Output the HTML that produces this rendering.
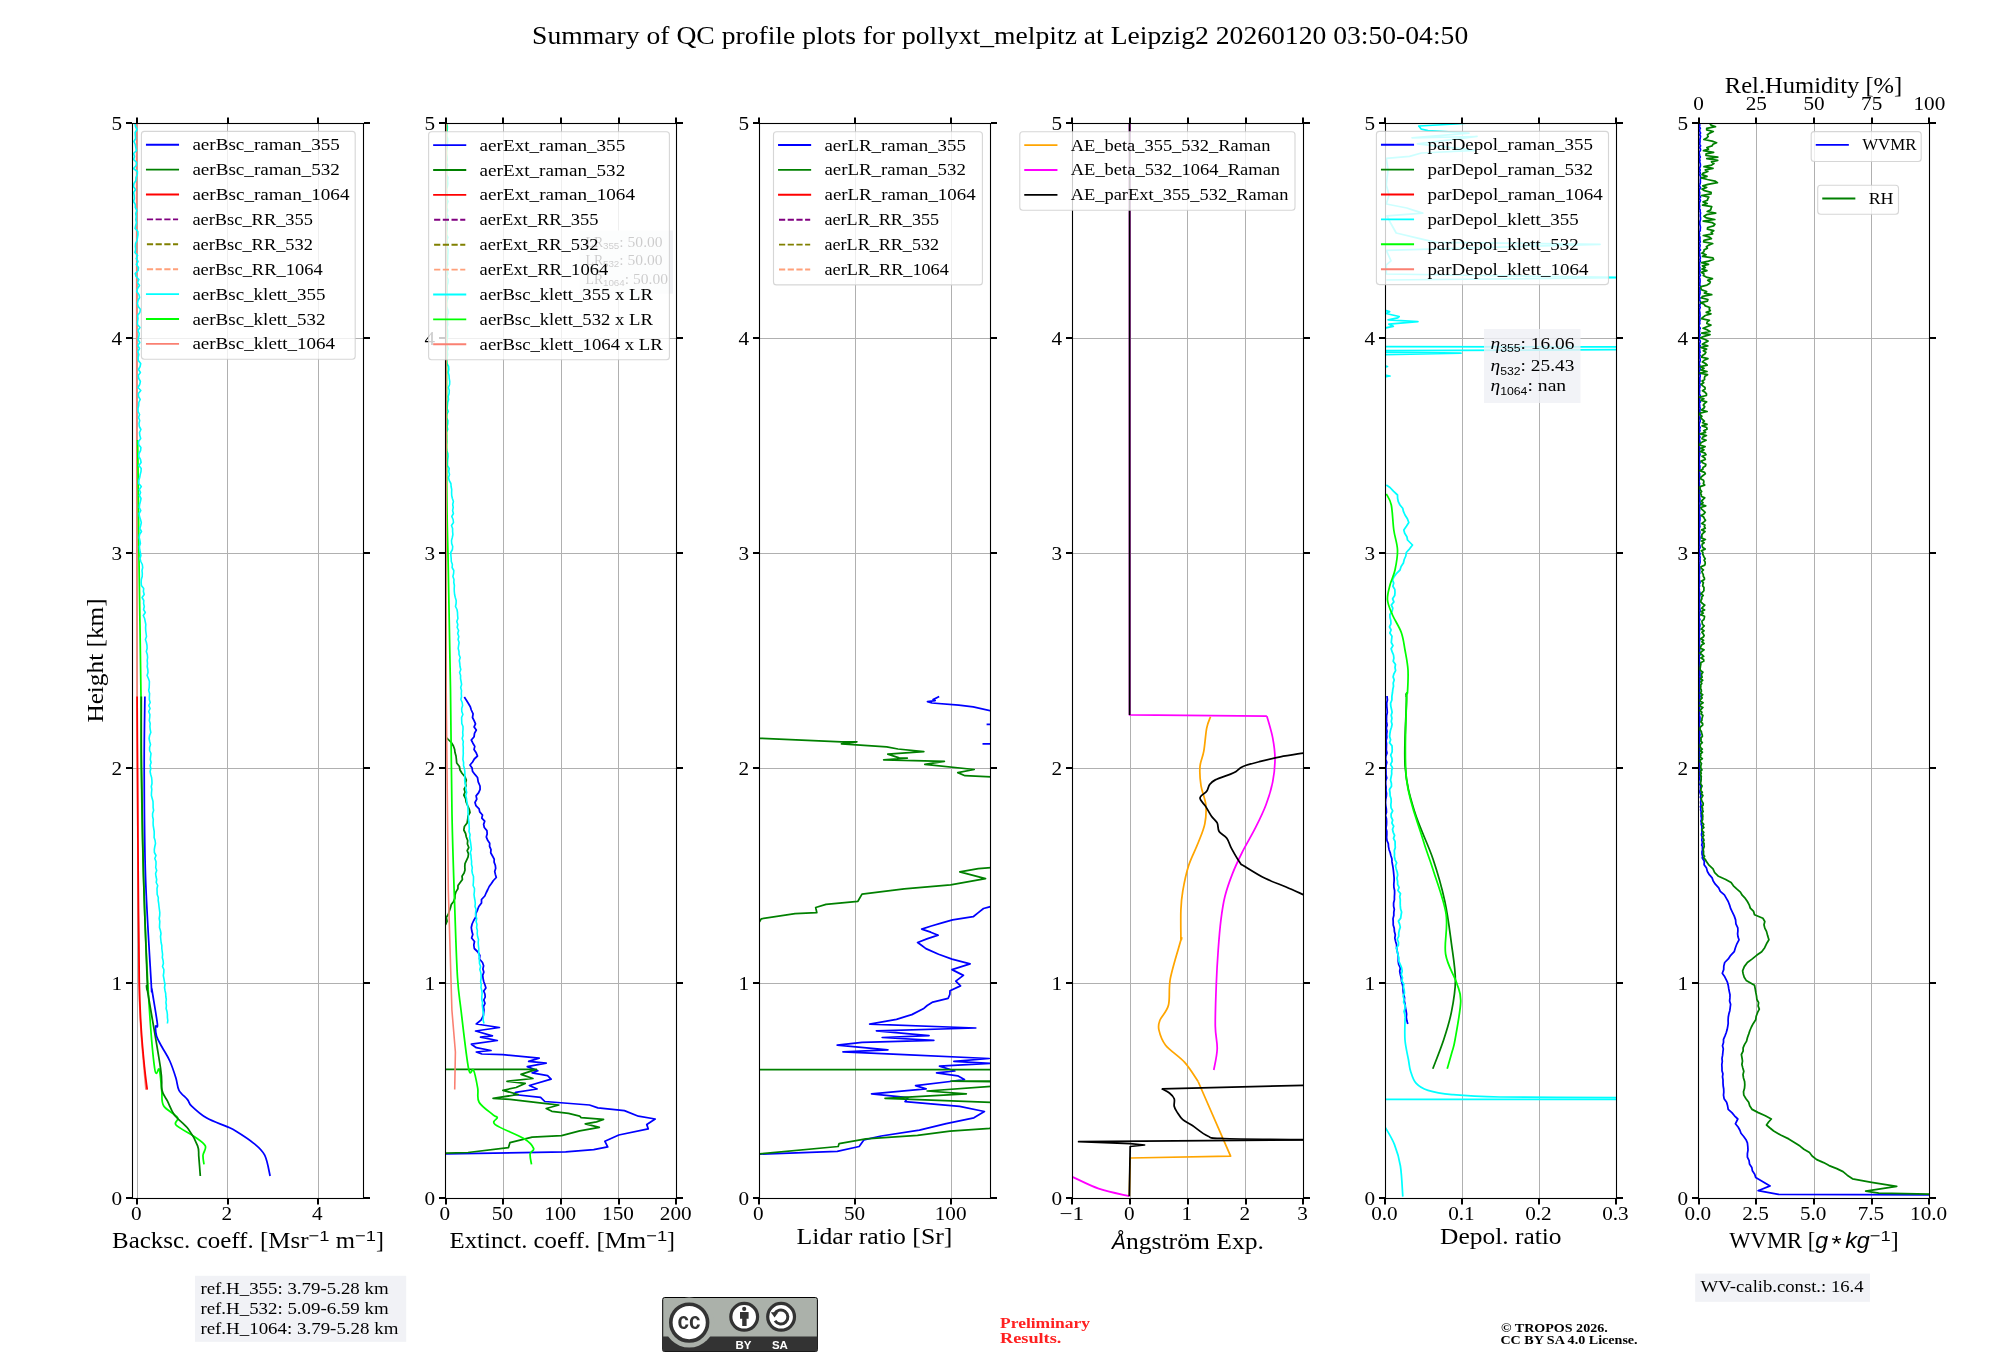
<!DOCTYPE html><html><head><meta charset="utf-8"><style>html,body{margin:0;padding:0;background:#fff;}svg{display:block;will-change:transform;}</style></head><body>
<svg width="2000" height="1360" viewBox="0 0 2000 1360">
<rect x="0" y="0" width="2000" height="1360" fill="#fff"/>
<text x="532.14" y="43.80" font-family="Liberation Serif" font-size="24.95" font-weight="normal" font-style="normal" fill="#000" textLength="936.12" lengthAdjust="spacingAndGlyphs">Summary of QC profile plots for pollyxt_melpitz at Leipzig2 20260120 03:50-04:50</text>
<g transform="translate(103.2 660.5) rotate(-90)">
<text x="-62.14" y="0.00" font-family="Liberation Serif" font-size="22.74" font-weight="normal" font-style="normal" fill="#000" textLength="124.26" lengthAdjust="spacingAndGlyphs">Height [km]</text>
</g>
<line x1="137.5" y1="123.5" x2="137.5" y2="1198.5" stroke="#b0b0b0" stroke-width="1.0"/>
<line x1="227.5" y1="123.5" x2="227.5" y2="1198.5" stroke="#b0b0b0" stroke-width="1.0"/>
<line x1="318.5" y1="123.5" x2="318.5" y2="1198.5" stroke="#b0b0b0" stroke-width="1.0"/>
<line x1="132.5" y1="983.5" x2="363.5" y2="983.5" stroke="#b0b0b0" stroke-width="1.0"/>
<line x1="132.5" y1="768.5" x2="363.5" y2="768.5" stroke="#b0b0b0" stroke-width="1.0"/>
<line x1="132.5" y1="553.5" x2="363.5" y2="553.5" stroke="#b0b0b0" stroke-width="1.0"/>
<line x1="132.5" y1="338.5" x2="363.5" y2="338.5" stroke="#b0b0b0" stroke-width="1.0"/>
<line x1="503.5" y1="123.5" x2="503.5" y2="1198.5" stroke="#b0b0b0" stroke-width="1.0"/>
<line x1="561.5" y1="123.5" x2="561.5" y2="1198.5" stroke="#b0b0b0" stroke-width="1.0"/>
<line x1="618.5" y1="123.5" x2="618.5" y2="1198.5" stroke="#b0b0b0" stroke-width="1.0"/>
<line x1="445.5" y1="983.5" x2="676.5" y2="983.5" stroke="#b0b0b0" stroke-width="1.0"/>
<line x1="445.5" y1="768.5" x2="676.5" y2="768.5" stroke="#b0b0b0" stroke-width="1.0"/>
<line x1="445.5" y1="553.5" x2="676.5" y2="553.5" stroke="#b0b0b0" stroke-width="1.0"/>
<line x1="445.5" y1="338.5" x2="676.5" y2="338.5" stroke="#b0b0b0" stroke-width="1.0"/>
<line x1="855.5" y1="123.5" x2="855.5" y2="1198.5" stroke="#b0b0b0" stroke-width="1.0"/>
<line x1="951.5" y1="123.5" x2="951.5" y2="1198.5" stroke="#b0b0b0" stroke-width="1.0"/>
<line x1="759.5" y1="983.5" x2="990.5" y2="983.5" stroke="#b0b0b0" stroke-width="1.0"/>
<line x1="759.5" y1="768.5" x2="990.5" y2="768.5" stroke="#b0b0b0" stroke-width="1.0"/>
<line x1="759.5" y1="553.5" x2="990.5" y2="553.5" stroke="#b0b0b0" stroke-width="1.0"/>
<line x1="759.5" y1="338.5" x2="990.5" y2="338.5" stroke="#b0b0b0" stroke-width="1.0"/>
<line x1="1130.5" y1="123.5" x2="1130.5" y2="1198.5" stroke="#b0b0b0" stroke-width="1.0"/>
<line x1="1187.5" y1="123.5" x2="1187.5" y2="1198.5" stroke="#b0b0b0" stroke-width="1.0"/>
<line x1="1245.5" y1="123.5" x2="1245.5" y2="1198.5" stroke="#b0b0b0" stroke-width="1.0"/>
<line x1="1072.5" y1="983.5" x2="1303.5" y2="983.5" stroke="#b0b0b0" stroke-width="1.0"/>
<line x1="1072.5" y1="768.5" x2="1303.5" y2="768.5" stroke="#b0b0b0" stroke-width="1.0"/>
<line x1="1072.5" y1="553.5" x2="1303.5" y2="553.5" stroke="#b0b0b0" stroke-width="1.0"/>
<line x1="1072.5" y1="338.5" x2="1303.5" y2="338.5" stroke="#b0b0b0" stroke-width="1.0"/>
<line x1="1462.5" y1="123.5" x2="1462.5" y2="1198.5" stroke="#b0b0b0" stroke-width="1.0"/>
<line x1="1539.5" y1="123.5" x2="1539.5" y2="1198.5" stroke="#b0b0b0" stroke-width="1.0"/>
<line x1="1385.5" y1="983.5" x2="1616.5" y2="983.5" stroke="#b0b0b0" stroke-width="1.0"/>
<line x1="1385.5" y1="768.5" x2="1616.5" y2="768.5" stroke="#b0b0b0" stroke-width="1.0"/>
<line x1="1385.5" y1="553.5" x2="1616.5" y2="553.5" stroke="#b0b0b0" stroke-width="1.0"/>
<line x1="1385.5" y1="338.5" x2="1616.5" y2="338.5" stroke="#b0b0b0" stroke-width="1.0"/>
<line x1="1756.5" y1="123.5" x2="1756.5" y2="1198.5" stroke="#b0b0b0" stroke-width="1.0"/>
<line x1="1814.5" y1="123.5" x2="1814.5" y2="1198.5" stroke="#b0b0b0" stroke-width="1.0"/>
<line x1="1871.5" y1="123.5" x2="1871.5" y2="1198.5" stroke="#b0b0b0" stroke-width="1.0"/>
<line x1="1698.5" y1="983.5" x2="1929.5" y2="983.5" stroke="#b0b0b0" stroke-width="1.0"/>
<line x1="1698.5" y1="768.5" x2="1929.5" y2="768.5" stroke="#b0b0b0" stroke-width="1.0"/>
<line x1="1698.5" y1="553.5" x2="1929.5" y2="553.5" stroke="#b0b0b0" stroke-width="1.0"/>
<line x1="1698.5" y1="338.5" x2="1929.5" y2="338.5" stroke="#b0b0b0" stroke-width="1.0"/>
<defs>
<clipPath id="cp0"><rect x="132.5" y="123.5" width="231.0" height="1075.0"/></clipPath>
<clipPath id="cp1"><rect x="445.5" y="123.5" width="231.0" height="1075.0"/></clipPath>
<clipPath id="cp2"><rect x="759.5" y="123.5" width="231.0" height="1075.0"/></clipPath>
<clipPath id="cp3"><rect x="1072.5" y="123.5" width="231.0" height="1075.0"/></clipPath>
<clipPath id="cp4"><rect x="1385.5" y="123.5" width="231.0" height="1075.0"/></clipPath>
<clipPath id="cp5"><rect x="1698.5" y="123.5" width="231.0" height="1075.0"/></clipPath>
</defs>
<g clip-path="url(#cp0)">
<path d="M136.60 123.50 C136.63 195.08 136.73 457.50 136.80 553.00 C136.87 648.50 136.90 660.67 137.00 696.50 C137.10 732.33 137.23 738.08 137.40 768.00 C137.57 797.92 137.73 840.17 138.00 876.00 C138.27 911.83 138.52 957.33 139.00 983.00 C139.48 1008.67 140.08 1015.97 140.90 1030.00 C141.72 1044.03 143.07 1057.27 143.90 1067.20 C144.73 1077.13 145.57 1085.87 145.90 1089.60" fill="none" stroke="#fa8072" stroke-width="1.60" stroke-linejoin="round" stroke-linecap="butt"/>
<path d="M137.60 440.00 C137.70 446.67 137.98 461.17 138.20 480.00 C138.42 498.83 138.43 516.92 138.90 553.00 C139.37 589.08 140.60 660.67 141.00 696.50 C141.40 732.33 140.88 738.08 141.30 768.00 C141.72 797.92 142.35 839.00 143.50 876.00 C144.65 913.00 146.35 958.00 148.20 990.00 C150.05 1022.00 152.75 1054.75 154.60 1068.00 C156.45 1081.25 158.12 1065.78 159.30 1069.50 C160.48 1073.22 160.98 1084.25 161.70 1090.30 C162.42 1096.35 160.97 1101.28 163.60 1105.80 C166.23 1110.32 175.43 1114.20 177.50 1117.40 C179.57 1120.60 173.17 1121.78 176.00 1125.00 C178.83 1128.22 189.62 1133.22 194.50 1136.70 C199.38 1140.18 203.88 1142.82 205.30 1145.90 C206.72 1148.98 203.22 1152.12 203.00 1155.20 C202.78 1158.28 203.83 1162.87 204.00 1164.40" fill="none" stroke="#00ff00" stroke-width="1.75" stroke-linejoin="round" stroke-linecap="butt"/>
<path d="M135.0 123.5 L135.5 126.5 L137.1 129.5 L135.1 132.5 L135.3 135.5 L135.6 138.5 L133.9 141.5 L135.3 144.5 L135.8 147.5 L136.5 150.5 L133.6 153.5 L134.5 156.5 L133.6 159.5 L136.6 162.5 L136.2 165.5 L133.5 168.5 L137.4 171.5 L137.3 174.5 L136.0 177.5 L135.9 180.5 L134.0 183.5 L133.5 186.5 L135.5 189.5 L133.7 192.5 L134.2 195.5 L134.4 198.5 L133.6 201.5 L135.3 204.5 L135.3 207.5 L136.9 210.5 L135.7 213.5 L136.2 216.5 L135.8 219.5 L136.5 222.5 L135.7 225.5 L135.1 228.5 L137.9 231.5 L138.0 234.5 L137.5 237.5 L137.0 240.5 L135.6 243.5 L135.4 246.5 L135.7 249.5 L134.9 252.5 L137.6 255.5 L136.3 258.5 L138.0 261.5 L136.4 264.5 L138.5 267.5 L138.2 270.5 L135.2 273.5 L136.1 276.5 L138.9 279.5 L137.5 282.5 L139.5 285.5 L137.6 288.5 L136.7 291.5 L138.9 294.5 L139.6 297.5 L138.0 300.5 L137.4 303.5 L138.2 306.5 L140.5 309.5 L139.8 312.5 L137.6 315.5 L138.0 318.5 L137.5 321.5 L137.4 324.5 L140.0 327.5 L137.9 330.5 L139.2 333.5 L138.8 336.5 L138.0 339.5 L139.8 342.5 L137.8 345.5 L139.5 348.5 L137.8 351.5 L138.8 354.5 L138.1 357.5 L138.3 360.5 L140.7 363.5 L140.1 366.5 L138.5 369.5 L140.4 372.5 L138.2 375.5 L138.8 378.5 L140.4 381.5 L139.7 384.5 L138.0 387.5 L140.8 390.5 L138.4 393.5 L138.5 396.5 L140.2 399.5 L138.8 402.5 L138.7 405.5 L138.0 408.5 L138.1 411.5 L139.6 414.5 L138.6 417.5 L139.7 420.5 L139.0 423.5 L139.3 426.5 L140.9 429.5 L139.5 432.5 L139.8 435.5 L140.7 438.5 L138.6 441.5 L138.6 444.5 L140.9 447.5 L140.6 450.5 L139.0 453.5 L138.8 456.5 L140.5 459.5 L141.1 462.5 L138.9 465.5 L141.2 468.5 L141.0 471.5 L140.2 474.5 L139.7 477.5 L138.8 480.5 L138.7 483.5 L141.3 486.5 L139.3 489.5 L140.6 492.5 L139.4 495.5 L141.0 498.5 L140.4 501.5 L139.6 504.5 L139.3 507.5 L140.8 510.5 L139.1 513.5 L139.5 516.5 L140.5 519.5 L141.3 522.5 L140.7 525.5 L139.8 528.5 L141.5 531.5 L139.6 534.5 L139.2 537.5 L139.9 540.5 L140.4 543.5 L139.4 546.5 L139.7 549.5 L140.3 552.5 L140.9 555.5 L140.0 558.5 L140.8 561.5 L142.3 564.5 L142.7 567.5 L142.0 570.5 L142.3 573.5 L142.2 576.5 L141.3 579.5 L141.2 582.5 L141.4 585.5 L143.7 588.5 L143.4 591.5 L144.2 594.5 L142.1 597.5 L143.8 600.5 L143.6 603.5 L144.3 606.5 L143.6 609.5 L145.3 612.5 L143.3 615.5 L144.6 618.5 L145.2 621.5 L145.8 624.5 L145.6 627.5 L145.7 630.5 L146.1 633.5 L146.5 636.5 L145.4 639.5 L146.4 642.5 L147.0 645.5 L147.1 648.5 L146.3 651.5 L147.3 654.5 L147.6 657.5 L147.2 660.5 L147.5 663.5 L147.2 666.5 L147.8 669.5 L148.0 672.5 L147.1 675.5 L148.4 678.5 L149.4 681.5 L149.3 684.5 L149.2 687.5 L148.7 690.5 L149.6 693.5 L149.4 696.5 L149.3 699.5 L150.2 702.5 L148.8 705.5 L150.1 708.5 L148.7 711.5 L149.9 714.5 L149.7 717.5 L149.3 720.5 L150.2 723.5 L149.9 726.5 L150.2 729.5 L150.8 732.5 L149.6 735.5 L149.1 738.5 L149.7 741.5 L150.5 744.5 L149.6 747.5 L149.6 750.5 L151.0 753.5 L150.6 756.5 L150.3 759.5 L151.1 762.5 L150.1 765.5 L150.8 768.5 L150.1 771.5 L150.7 774.5 L151.6 777.5 L151.9 780.5 L152.0 783.5 L151.3 786.5 L151.8 789.5 L151.5 792.5 L151.4 795.5 L152.2 798.5 L153.0 801.5 L153.1 804.5 L153.1 807.5 L153.6 810.5 L152.6 813.5 L152.6 816.5 L153.3 819.5 L153.1 822.5 L153.2 825.5 L153.7 828.5 L154.2 831.5 L154.2 834.5 L154.1 837.5 L155.1 840.5 L155.5 843.5 L154.8 846.5 L154.3 849.5 L154.4 852.5 L156.0 855.5 L154.8 858.5 L156.0 861.5 L156.0 864.5 L155.7 867.5 L156.7 870.5 L155.6 873.5 L156.0 876.5 L156.7 879.5 L156.2 882.5 L157.7 885.5 L157.0 888.5 L157.1 891.5 L157.2 894.5 L158.3 897.5 L158.2 900.5 L158.7 903.5 L159.0 906.5 L159.4 909.5 L159.8 912.5 L159.7 915.5 L159.2 918.5 L159.8 921.5 L159.6 924.5 L159.5 927.5 L160.4 930.5 L161.0 933.5 L160.5 936.5 L160.8 939.5 L161.1 942.5 L161.8 945.5 L161.8 948.5 L162.2 951.5 L162.6 954.5 L162.3 957.5 L163.1 960.5 L163.4 963.5 L162.5 966.5 L163.9 969.5 L163.8 972.5 L163.3 975.5 L163.9 978.5 L164.4 981.5 L165.0 984.5 L164.5 987.5 L165.0 990.5 L165.7 993.5 L165.8 996.5 L166.3 999.5 L165.9 1002.5 L166.4 1005.5 L166.1 1008.5 L167.0 1011.5 L167.4 1014.5 L167.4 1017.5 L167.8 1020.5 L167.4 1023.5" fill="none" stroke="#00ffff" stroke-width="1.60" stroke-linejoin="round" stroke-linecap="butt"/>
<path d="M137.10 696.50 C137.17 708.42 137.32 738.08 137.50 768.00 C137.68 797.92 137.90 840.17 138.20 876.00 C138.50 911.83 138.78 957.33 139.30 983.00 C139.82 1008.67 140.43 1015.97 141.30 1030.00 C142.17 1044.03 143.52 1057.27 144.50 1067.20 C145.48 1077.13 146.75 1085.87 147.20 1089.60" fill="none" stroke="#ff0000" stroke-width="1.75" stroke-linejoin="round" stroke-linecap="butt"/>
<path d="M141.30 696.50 C141.33 708.42 141.13 738.08 141.50 768.00 C141.87 797.92 142.53 840.17 143.50 876.00 C144.47 911.83 146.65 964.00 147.30 983.00 C147.95 1002.00 145.20 975.83 147.40 990.00 C149.60 1004.17 158.07 1051.28 160.50 1068.00 C162.93 1084.72 160.83 1084.78 162.00 1090.30 C163.17 1095.82 165.43 1096.98 167.50 1101.10 C169.57 1105.22 170.93 1110.35 174.40 1115.00 C177.87 1119.65 184.43 1123.85 188.30 1129.00 C192.17 1134.15 195.85 1141.28 197.60 1145.90 C199.35 1150.52 198.35 1151.68 198.80 1156.70 C199.25 1161.72 200.05 1172.78 200.30 1176.00" fill="none" stroke="#008000" stroke-width="1.75" stroke-linejoin="round" stroke-linecap="butt"/>
<path d="M144.90 696.50 C144.78 708.42 144.10 738.08 144.20 768.00 C144.30 797.92 144.33 840.17 145.50 876.00 C146.67 911.83 150.12 964.00 151.20 983.00 C152.28 1002.00 150.97 983.17 152.00 990.00 C153.03 996.83 156.80 1017.95 157.40 1024.00 C158.00 1030.05 155.73 1024.25 155.60 1026.30 C155.47 1028.35 155.53 1032.85 156.60 1036.30 C157.67 1039.75 159.80 1042.88 162.00 1047.00 C164.20 1051.12 167.48 1055.83 169.80 1061.00 C172.12 1066.17 174.37 1073.12 175.90 1078.00 C177.43 1082.88 177.07 1086.70 179.00 1090.30 C180.93 1093.90 185.43 1097.02 187.50 1099.60 C189.57 1102.18 188.18 1102.72 191.40 1105.80 C194.62 1108.88 200.88 1114.63 206.80 1118.10 C212.72 1121.57 222.02 1124.42 226.90 1126.60 C231.78 1128.78 231.73 1128.50 236.10 1131.20 C240.47 1133.90 248.33 1138.80 253.10 1142.80 C257.87 1146.80 261.87 1149.67 264.70 1155.20 C267.53 1160.73 269.20 1172.53 270.10 1176.00" fill="none" stroke="#0000ff" stroke-width="1.75" stroke-linejoin="round" stroke-linecap="butt"/>
</g>
<g clip-path="url(#cp1)">
<path d="M464.3 697.0 L466.4 700.2 L468.4 703.5 L470.3 706.8 L471.3 710.0 L473.1 713.8 L472.5 717.5 L474.1 720.6 L475.5 723.8 L474.1 726.9 L476.3 730.0 L474.5 733.3 L474.1 736.7 L471.3 740.0 L472.9 743.2 L474.8 746.4 L474.0 749.6 L476.2 752.8 L477.5 756.0 L474.3 759.0 L472.6 762.0 L470.0 765.0 L472.1 768.1 L472.5 771.2 L474.9 774.4 L477.5 777.5 L478.2 781.8 L480.0 786.0 L480.1 789.3 L478.7 792.6 L476.1 795.9 L476.8 799.2 L475.0 802.5 L475.9 805.6 L479.1 808.8 L479.7 811.9 L482.5 815.0 L481.8 818.1 L484.7 821.2 L483.6 824.4 L484.3 827.5 L486.9 830.6 L487.2 833.8 L486.3 836.9 L487.5 840.0 L489.7 843.2 L489.6 846.4 L491.0 849.6 L490.7 852.8 L492.5 856.0 L494.2 859.1 L494.1 862.1 L495.3 865.2 L495.7 868.3 L494.7 871.4 L495.4 874.4 L496.3 877.5 L493.4 880.5 L491.4 883.5 L489.2 886.5 L487.8 889.5 L486.3 892.5 L484.8 896.0 L481.5 899.5 L481.5 903.0 L478.8 906.5 L477.5 910.0 L475.8 913.5 L475.8 917.0 L473.7 920.5 L472.1 924.0 L471.3 927.5 L471.8 931.0 L472.8 934.5 L471.6 938.0 L474.5 941.5 L473.8 945.0 L474.3 948.5 L477.9 952.0 L479.9 955.5 L479.5 959.0 L482.5 962.5 L483.6 965.7 L482.9 968.9 L483.8 972.1 L482.7 975.4 L483.1 978.6 L483.8 981.8 L485.0 985.0 L485.9 988.0 L483.7 991.0 L484.9 994.0 L485.2 997.0 L483.8 1000.0 L485.0 1003.3 L483.5 1006.7 L484.0 1010.0 L483.3 1015.6 L481.2 1019.8 L476.3 1024.0 L499.4 1027.5 L475.6 1031.0 L492.4 1035.8 L480.5 1037.2 L497.3 1040.5 L471.4 1044.2 L476.3 1047.7 L491.0 1050.5 L476.3 1052.0 L481.9 1054.0 L502.9 1054.7 L539.2 1058.2 L528.7 1061.4 L546.2 1063.1 L527.3 1066.6 L537.8 1070.8 L532.2 1072.9 L547.6 1075.7 L551.1 1079.2 L529.4 1085.5 L537.1 1089.0 L515.5 1092.4 L514.0 1094.5 L540.6 1097.3 L544.8 1101.5 L589.5 1105.0 L597.9 1107.8 L624.4 1110.6 L638.4 1116.2 L655.2 1119.0 L646.8 1124.6 L648.2 1128.8 L618.8 1135.0 L604.9 1141.3 L607.7 1146.9 L593.7 1149.7 L565.7 1151.8 L445.6 1153.9" fill="none" stroke="#0000ff" stroke-width="1.75" stroke-linejoin="round" stroke-linecap="butt"/>
<path d="M446.3 737.5 L451.3 742.5 L453.3 745.8 L454.6 749.2 L455.0 752.5 L456.0 756.0 L456.4 759.5 L456.7 763.0 L459.4 766.5 L460.0 770.0 L462.0 773.3 L464.9 776.7 L466.3 780.0 L465.5 783.0 L466.0 786.0 L464.2 789.0 L465.1 792.0 L463.8 795.0 L465.6 798.5 L466.1 802.0 L467.6 805.5 L469.2 809.0 L470.0 812.5 L468.0 816.0 L467.7 819.5 L467.1 823.0 L464.4 826.5 L463.8 830.0 L465.6 833.5 L466.3 837.0 L467.7 840.5 L467.4 844.0 L468.8 847.5 L467.2 850.7 L468.5 853.9 L468.0 857.1 L466.5 860.4 L465.0 863.6 L464.8 866.8 L465.0 870.0 L464.1 873.1 L462.0 876.2 L462.4 879.4 L460.2 882.5 L458.0 885.6 L457.9 888.8 L455.9 891.9 L455.0 895.0 L454.9 898.2 L453.6 901.4 L451.3 904.6 L450.4 907.9 L449.3 911.1 L448.3 914.3 L446.3 917.5 L447.1 921.2 L445.5 925.0" fill="none" stroke="#008000" stroke-width="1.75" stroke-linejoin="round" stroke-linecap="butt"/>
<path d="M445.5 1069.4 L536.4 1069.4 L521.0 1074.3 L532.9 1078.5 L507.0 1081.3 L525.2 1083.4 L516.1 1087.5 L502.9 1090.3 L518.2 1094.5 L493.1 1098.3 L509.9 1099.4 L546.2 1103.6 L558.8 1105.0 L546.2 1108.5 L551.8 1111.3 L568.5 1113.4 L579.7 1116.2 L581.1 1117.6 L603.5 1119.4 L596.5 1121.8 L585.3 1123.9 L599.3 1127.4 L579.7 1130.9 L561.6 1135.7 L532.2 1137.1 L509.9 1142.7 L508.5 1147.6 L468.0 1152.5 L445.6 1153.2" fill="none" stroke="#008000" stroke-width="1.75" stroke-linejoin="round" stroke-linecap="butt"/>
<path d="M446.3 123.5 L447.4 126.5 L447.3 129.5 L447.0 132.5 L446.5 135.5 L447.6 138.5 L447.7 141.5 L447.1 144.5 L447.1 147.5 L446.5 150.5 L446.1 153.5 L446.8 156.5 L447.2 159.5 L446.2 162.5 L447.7 165.5 L446.6 168.5 L446.6 171.5 L446.2 174.5 L448.1 177.5 L447.6 180.5 L447.9 183.5 L447.4 186.5 L446.2 189.5 L446.8 192.5 L447.1 195.5 L446.4 198.5 L448.1 201.5 L446.9 204.5 L446.5 207.5 L447.8 210.5 L446.4 213.5 L448.1 216.5 L447.1 219.5 L447.3 222.5 L446.9 225.5 L447.2 228.5 L446.6 231.5 L446.3 234.5 L448.0 237.5 L446.7 240.5 L447.8 243.5 L446.7 246.5 L448.2 249.5 L448.1 252.5 L447.8 255.5 L447.8 258.5 L447.5 261.5 L447.8 264.5 L446.5 267.5 L447.3 270.5 L448.0 273.5 L446.7 276.5 L448.2 279.5 L448.1 282.5 L447.2 285.5 L447.1 288.5 L447.3 291.5 L447.1 294.5 L448.4 297.5 L447.1 300.5 L446.4 303.5 L446.6 306.5 L447.8 309.5 L448.4 312.5 L447.4 315.5 L447.4 318.5 L447.5 321.5 L447.9 324.5 L446.9 327.5 L447.7 330.5 L447.6 333.5 L447.7 336.5 L446.8 339.5 L446.8 342.5 L447.2 345.5 L448.3 348.5 L447.2 351.5 L447.7 354.5 L447.1 357.5 L446.7 360.5 L446.9 363.5 L448.6 366.5 L448.8 369.5 L448.2 372.5 L449.0 375.5 L449.2 378.5 L449.7 381.5 L449.6 384.5 L448.4 387.5 L449.3 390.5 L449.1 393.5 L448.2 396.5 L448.6 399.5 L447.7 402.5 L447.4 405.5 L447.1 408.5 L448.3 411.5 L446.8 414.5 L446.5 417.5 L447.9 420.5 L447.8 423.5 L447.1 426.5 L447.7 429.5 L446.1 432.5 L446.4 435.5 L446.4 438.5 L446.7 441.5 L446.2 444.5 L446.1 447.5 L446.7 450.5 L447.9 453.5 L448.1 456.5 L447.7 459.5 L447.5 462.5 L447.4 465.5 L449.2 468.5 L448.7 471.5 L449.5 474.5 L448.5 477.5 L449.2 480.5 L450.9 483.5 L451.1 486.5 L451.7 489.5 L451.6 492.5 L451.7 495.5 L452.4 498.5 L453.4 501.5 L452.7 504.5 L453.2 507.5 L452.6 510.5 L453.4 513.5 L451.8 516.5 L453.1 519.5 L453.5 522.5 L451.5 525.5 L452.6 528.5 L452.6 531.5 L452.9 534.5 L452.3 537.5 L451.5 540.5 L451.7 543.5 L452.7 546.5 L452.4 549.5 L450.8 552.5 L450.9 555.5 L451.2 558.5 L451.3 561.5 L452.4 564.5 L452.1 567.5 L453.8 570.5 L453.6 573.5 L452.9 576.5 L454.0 579.5 L453.8 582.5 L454.4 585.5 L454.2 588.5 L454.3 591.5 L454.6 594.5 L455.3 597.5 L456.2 600.5 L456.1 603.5 L455.5 606.5 L457.0 609.5 L457.5 612.5 L457.6 615.5 L457.9 618.5 L456.8 621.5 L457.8 624.5 L457.2 627.5 L458.6 630.5 L457.7 633.5 L458.8 636.5 L458.1 639.5 L459.1 642.5 L458.6 645.5 L458.2 648.5 L459.0 651.5 L459.0 654.5 L460.2 657.5 L459.3 660.5 L459.8 663.5 L460.0 666.5 L460.8 669.5 L459.6 672.5 L460.6 675.5 L460.5 678.5 L461.1 681.5 L461.6 684.5 L460.7 687.5 L461.5 690.5 L461.3 693.5 L461.5 696.5 L460.9 699.5 L462.2 702.5 L462.6 705.5 L461.7 708.5 L461.8 711.5 L462.9 714.5 L461.6 717.5 L461.7 720.5 L461.8 723.5 L463.0 726.5 L463.0 729.5 L462.7 732.5 L463.0 735.5 L462.2 738.5 L463.3 741.5 L463.0 744.5 L463.3 747.5 L463.2 750.5 L463.3 753.5 L463.1 756.5 L462.9 759.5 L463.6 762.5 L463.5 765.5 L464.4 768.5 L464.8 771.5 L464.9 774.5 L464.8 777.5 L464.7 780.5 L465.2 783.5 L465.6 786.5 L466.0 789.5 L466.7 792.5 L465.7 795.5 L466.5 798.5 L466.8 801.5 L467.4 804.5 L467.9 807.5 L468.0 810.5 L468.0 813.5 L468.4 816.5 L468.5 819.5 L469.0 822.5 L469.1 825.5 L469.3 828.5 L469.0 831.5 L470.1 834.5 L469.6 837.5 L470.2 840.5 L470.7 843.5 L471.1 846.5 L471.4 849.5 L470.3 852.5 L471.0 855.5 L471.2 858.5 L471.6 861.5 L471.5 864.5 L472.3 867.5 L471.9 870.5 L472.4 873.5 L473.5 876.5 L473.5 879.5 L473.4 882.5 L473.1 885.5 L474.5 888.5 L474.4 891.5 L474.0 894.5 L474.4 897.5 L475.0 900.5 L475.3 903.5 L475.0 906.5 L476.1 909.5 L475.6 912.5 L475.7 915.5 L476.7 918.5 L476.1 921.5 L477.0 924.5 L476.6 927.5 L477.4 930.5 L477.2 933.5 L477.6 936.5 L478.5 939.5 L478.2 942.5 L478.4 945.5 L478.8 948.5 L478.7 951.5 L478.8 954.5 L479.3 957.5 L479.4 960.5 L479.5 963.5 L480.6 966.5 L479.8 969.5 L480.8 972.5 L481.2 975.5 L481.1 978.5 L480.6 981.5 L481.3 984.5 L481.0 987.5 L481.8 990.5 L482.1 993.5 L481.8 996.5 L481.8 999.5 L482.5 1002.5 L482.3 1005.5 L482.7 1008.5 L483.0 1011.5 L483.6 1014.5 L483.3 1017.5 L483.2 1020.5 L484.0 1023.5" fill="none" stroke="#00ffff" stroke-width="1.60" stroke-linejoin="round" stroke-linecap="butt"/>
<path d="M446.50 123.50 C446.52 179.58 446.30 385.58 446.60 460.00 C446.90 534.42 447.65 531.67 448.30 570.00 C448.95 608.33 449.88 649.17 450.50 690.00 C451.12 730.83 451.25 777.50 452.00 815.00 C452.75 852.50 454.08 887.92 455.00 915.00 C455.92 942.08 456.50 961.67 457.50 977.50 C458.50 993.33 459.15 994.80 461.00 1010.00 C462.85 1025.20 466.52 1058.70 468.60 1068.70 C470.68 1078.70 471.98 1066.75 473.50 1070.00 C475.02 1073.25 476.77 1082.83 477.70 1088.20 C478.63 1093.57 476.53 1097.77 479.10 1102.20 C481.67 1106.63 490.07 1112.23 493.10 1114.80 C496.13 1117.37 496.95 1115.97 497.30 1117.60 C497.65 1119.23 490.78 1121.12 495.20 1124.60 C499.62 1128.08 517.40 1134.55 523.80 1138.50 C530.20 1142.45 532.55 1145.73 533.60 1148.30 C534.65 1150.87 530.45 1151.22 530.10 1153.90 C529.75 1156.58 531.27 1162.65 531.50 1164.40" fill="none" stroke="#00ff00" stroke-width="1.75" stroke-linejoin="round" stroke-linecap="butt"/>
<path d="M446.0 123.5 L446.2 690.0 L448.3 890.0 L451.9 1010.0 L455.4 1052.0 L454.7 1089.6" fill="none" stroke="#fa8072" stroke-width="1.60" stroke-linejoin="round" stroke-linecap="butt"/>
</g>
<g clip-path="url(#cp2)">
<path d="M939.2 696.5 L933.1 699.6 L935.1 700.6 L927.5 701.6 L932.0 703.0 L958.8 705.1 L973.2 706.8 L992.0 711.0" fill="none" stroke="#0000ff" stroke-width="1.75" stroke-linejoin="round" stroke-linecap="butt"/>
<path d="M986.6 724.3 L992.0 724.3" fill="none" stroke="#0000ff" stroke-width="1.75" stroke-linejoin="round" stroke-linecap="butt"/>
<path d="M982.5 743.8 L992.0 743.8" fill="none" stroke="#0000ff" stroke-width="1.75" stroke-linejoin="round" stroke-linecap="butt"/>
<path d="M759.5 738.3 L841.5 741.8 L856.9 741.8 L841.5 743.8 L886.7 746.9 L898.0 749.0 L923.8 751.6 L887.8 754.1 L899.1 757.8 L907.3 758.2 L883.7 759.9 L944.4 761.3 L924.8 764.4 L974.2 769.5 L957.8 772.6 L965.0 775.7 L992.0 776.9" fill="none" stroke="#008000" stroke-width="1.75" stroke-linejoin="round" stroke-linecap="butt"/>
<path d="M992.0 867.5 L978.3 868.6 L959.8 871.8 L985.5 878.6 L950.6 884.8 L904.2 888.9 L862.0 894.1 L857.9 901.3 L826.0 904.4 L815.7 907.5 L816.8 912.6 L795.1 913.6 L761.2 918.8 L759.5 921.9" fill="none" stroke="#008000" stroke-width="1.75" stroke-linejoin="round" stroke-linecap="butt"/>
<path d="M992.0 906.2 L983.5 908.5 L978.3 912.6 L973.2 916.7 L952.6 919.8 L942.0 922.9 L931.3 926.0 L921.7 929.1 L930.7 932.2 L938.2 935.2 L926.9 938.9 L917.6 942.5 L921.8 945.5 L925.9 948.6 L938.6 954.3 L952.0 959.1 L970.1 963.9 L952.0 969.6 L963.4 975.4 L955.8 981.1 L960.5 985.9 L950.0 990.7 L949.8 994.5 L948.1 998.3 L932.8 1002.1 L927.2 1005.5 L923.3 1008.8 L911.8 1014.6 L896.5 1019.3 L869.7 1024.1 L975.8 1028.0 L876.4 1030.8 L929.0 1035.6 L882.2 1037.5 L933.8 1040.4 L862.1 1042.3 L837.2 1045.2 L887.9 1049.9 L843.0 1051.9 L904.1 1054.7 L989.2 1058.5 L953.9 1061.4 L990.2 1063.3 L939.5 1066.2 L954.8 1071.0 L936.6 1072.9 L957.7 1075.8 L964.4 1079.6 L950.0 1081.5 L915.6 1085.7 L926.1 1088.8 L871.6 1093.9 L908.0 1097.7 L905.1 1101.6 L959.6 1106.3 L984.4 1111.5 L973.9 1117.8 L946.2 1123.6 L919.4 1130.2 L881.2 1136.0 L864.0 1139.8 L859.2 1146.5 L837.2 1151.3 L759.8 1154.1" fill="none" stroke="#0000ff" stroke-width="1.75" stroke-linejoin="round" stroke-linecap="butt"/>
<path d="M759.5 1069.6 L992.0 1069.6" fill="none" stroke="#008000" stroke-width="1.75" stroke-linejoin="round" stroke-linecap="butt"/>
<path d="M992.0 1081.1 L951.0 1081.1 L992.0 1081.6 L992.0 1086.3 L927.1 1091.0 L966.3 1093.9 L885.0 1098.3 L992.0 1102.5" fill="none" stroke="#008000" stroke-width="1.75" stroke-linejoin="round" stroke-linecap="butt"/>
<path d="M992.0 1124.5 L990.2 1128.3 L950.0 1131.2 L917.5 1135.4 L865.9 1138.9 L839.1 1143.6 L838.2 1146.5 L759.8 1153.8" fill="none" stroke="#008000" stroke-width="1.75" stroke-linejoin="round" stroke-linecap="butt"/>
</g>
<g clip-path="url(#cp3)">
<path d="M1210.50 716.80 C1209.87 718.70 1207.82 722.47 1206.70 728.20 C1205.58 733.93 1204.92 744.82 1203.80 751.20 C1202.68 757.58 1200.47 760.77 1200.00 766.50 C1199.53 772.23 1200.03 779.23 1201.00 785.60 C1201.97 791.97 1205.17 798.33 1205.80 804.70 C1206.43 811.07 1206.08 817.42 1204.80 823.80 C1203.52 830.18 1200.82 835.98 1198.10 843.00 C1195.38 850.02 1191.05 857.93 1188.50 865.90 C1185.95 873.87 1184.07 883.47 1182.80 890.80 C1181.53 898.13 1181.22 901.93 1180.90 909.90 C1180.58 917.87 1180.90 933.58 1180.90 938.60 C1180.90 943.62 1182.65 933.40 1180.90 940.00 C1179.15 946.60 1172.47 967.37 1170.40 978.20 C1168.33 989.03 1170.25 997.98 1168.50 1005.00 C1166.75 1012.02 1161.50 1016.15 1159.90 1020.30 C1158.30 1024.45 1157.95 1025.75 1158.90 1029.90 C1159.85 1034.05 1161.30 1039.78 1165.60 1045.20 C1169.90 1050.62 1179.28 1056.35 1184.70 1062.40 C1190.12 1068.45 1195.87 1078.32 1198.10 1081.50" fill="none" stroke="#ffa500" stroke-width="1.75" stroke-linejoin="round" stroke-linecap="butt"/>
<path d="M1198.1 1081.5 L1230.6 1156.1 L1130.2 1158.0 L1129.3 1196.2" fill="none" stroke="#ffa500" stroke-width="1.75" stroke-linejoin="round" stroke-linecap="butt"/>
<path d="M1129.6 110.0 L1129.6 714.9 L1266.9 716.2" fill="none" stroke="#ff00ff" stroke-width="1.75" stroke-linejoin="round" stroke-linecap="butt"/>
<path d="M1266.90 716.20 C1267.87 719.80 1271.35 730.70 1272.70 737.80 C1274.05 744.90 1275.00 751.47 1275.00 758.80 C1275.00 766.13 1274.20 774.15 1272.70 781.80 C1271.20 789.45 1268.87 797.05 1266.00 804.70 C1263.13 812.35 1259.48 819.73 1255.50 827.70 C1251.52 835.67 1245.93 844.85 1242.10 852.50 C1238.27 860.15 1235.37 866.27 1232.50 873.60 C1229.63 880.93 1226.82 888.87 1224.90 896.50 C1222.98 904.13 1222.12 910.48 1221.00 919.40 C1219.88 928.32 1218.98 939.23 1218.20 950.00 C1217.42 960.77 1216.78 971.33 1216.30 984.00 C1215.82 996.67 1215.15 1015.17 1215.30 1026.00 C1215.45 1036.83 1217.45 1041.67 1217.20 1049.00 C1216.95 1056.33 1214.37 1066.50 1213.80 1070.00" fill="none" stroke="#ff00ff" stroke-width="1.75" stroke-linejoin="round" stroke-linecap="butt"/>
<path d="M1060.00 1171.50 C1062.15 1172.43 1066.45 1174.25 1072.90 1177.10 C1079.35 1179.95 1089.30 1185.42 1098.70 1188.60 C1108.10 1191.78 1124.20 1194.93 1129.30 1196.20" fill="none" stroke="#ff00ff" stroke-width="1.75" stroke-linejoin="round" stroke-linecap="butt"/>
<path d="M1129.6 110.0 L1129.6 714.9" fill="none" stroke="#000000" stroke-width="1.75" stroke-linejoin="round" stroke-linecap="butt"/>
<path d="M1310.00 752.00 C1308.88 752.18 1308.25 752.28 1303.30 753.10 C1298.35 753.92 1287.63 755.47 1280.30 756.90 C1272.97 758.33 1265.52 760.10 1259.30 761.70 C1253.08 763.30 1246.83 764.90 1243.00 766.50 C1239.17 768.10 1238.37 770.03 1236.30 771.30 C1234.23 772.57 1234.10 772.67 1230.60 774.10 C1227.10 775.53 1218.80 778.15 1215.30 779.90 C1211.80 781.65 1211.03 782.70 1209.60 784.60 C1208.17 786.50 1208.30 789.07 1206.70 791.30 C1205.10 793.53 1200.15 795.45 1200.00 798.00 C1199.85 800.55 1203.88 803.57 1205.80 806.60 C1207.72 809.63 1209.60 813.48 1211.50 816.20 C1213.40 818.92 1215.93 820.35 1217.20 822.90 C1218.47 825.45 1217.50 828.95 1219.10 831.50 C1220.70 834.05 1224.72 835.33 1226.80 838.20 C1228.88 841.07 1229.37 844.57 1231.60 848.70 C1233.83 852.83 1238.13 860.13 1240.20 863.00 C1242.27 865.87 1239.87 863.35 1244.00 865.90 C1248.13 868.45 1257.98 874.78 1265.00 878.30 C1272.02 881.82 1279.72 884.28 1286.10 887.00 C1292.48 889.72 1299.32 892.83 1303.30 894.60 C1307.28 896.37 1308.88 897.10 1310.00 897.60" fill="none" stroke="#000000" stroke-width="1.75" stroke-linejoin="round" stroke-linecap="butt"/>
<path d="M1310.0 1085.2 L1303.3 1085.3 L1161.8 1088.8" fill="none" stroke="#000000" stroke-width="1.75" stroke-linejoin="round" stroke-linecap="butt"/>
<path d="M1161.80 1088.80 C1163.07 1089.50 1167.33 1091.35 1169.40 1093.00 C1171.47 1094.65 1173.40 1096.48 1174.20 1098.70 C1175.00 1100.92 1173.72 1104.07 1174.20 1106.30 C1174.68 1108.53 1175.67 1109.87 1177.10 1112.10 C1178.53 1114.33 1180.25 1117.47 1182.80 1119.70 C1185.35 1121.93 1188.25 1122.78 1192.40 1125.50 C1196.55 1128.22 1202.60 1133.83 1207.70 1136.00 C1212.80 1138.17 1205.95 1137.87 1223.00 1138.50 C1240.05 1139.13 1295.50 1139.58 1310.00 1139.80" fill="none" stroke="#000000" stroke-width="1.75" stroke-linejoin="round" stroke-linecap="butt"/>
<path d="M1310.0 1139.8 L1078.6 1141.7 L1130.2 1143.6 L1144.6 1145.0 L1130.2 1146.5 L1129.3 1196.2" fill="none" stroke="#000000" stroke-width="1.75" stroke-linejoin="round" stroke-linecap="butt"/>
</g>
<g clip-path="url(#cp4)">
<path d="M1387.0 696.0 L1387.4 700.0 L1386.7 703.1 L1386.8 706.3 L1387.1 709.4 L1387.3 712.5 L1386.6 715.6 L1386.5 718.8 L1386.6 721.9 L1387.1 725.0 L1386.3 728.1 L1387.0 731.3 L1386.6 734.4 L1386.8 737.5 L1386.1 740.6 L1386.5 743.7 L1386.4 746.8 L1386.3 749.9 L1387.0 753.0 L1385.9 756.1 L1385.7 759.2 L1386.8 762.3 L1386.1 765.4 L1385.9 768.5 L1386.0 771.7 L1386.0 774.8 L1386.7 777.9 L1385.7 781.0 L1385.7 784.1 L1386.1 787.2 L1386.0 790.3 L1386.5 793.4 L1386.3 796.5 L1385.7 799.6 L1385.5 802.7 L1385.8 805.8 L1386.3 809.0 L1386.5 812.2 L1385.5 815.3 L1386.4 818.5 L1386.6 821.7 L1386.5 824.9 L1386.0 828.1 L1386.8 831.2 L1386.8 834.4 L1386.6 837.6 L1387.0 840.6 L1388.3 843.6 L1388.5 846.6 L1389.1 849.7 L1390.2 852.7 L1390.9 855.7 L1391.9 858.7 L1392.0 861.9 L1392.6 865.1 L1393.1 868.2 L1393.5 871.4 L1393.8 874.6 L1394.1 877.8 L1394.1 881.0 L1393.8 884.1 L1393.9 887.3 L1394.6 890.5 L1394.6 893.6 L1394.4 896.8 L1394.4 899.9 L1393.6 903.0 L1393.6 906.1 L1394.3 909.3 L1393.8 912.4 L1393.8 915.5 L1393.0 918.6 L1393.2 921.8 L1393.2 924.9 L1394.2 928.2 L1394.4 931.5 L1395.3 934.8 L1394.8 938.1 L1395.6 941.4 L1396.6 944.7 L1396.6 948.0 L1397.2 951.3 L1398.0 954.6 L1398.3 957.9 L1398.2 961.2 L1398.7 964.5 L1400.3 967.9 L1399.7 971.2 L1400.3 974.5 L1401.2 977.8 L1401.5 981.1 L1402.4 984.4 L1403.1 987.7 L1403.1 991.0 L1403.6 994.3 L1404.5 997.6 L1404.3 1000.9 L1405.1 1004.2 L1405.4 1007.5 L1406.1 1010.8 L1406.6 1014.1 L1406.3 1017.5 L1406.9 1020.8 L1407.8 1024.1" fill="none" stroke="#0000ff" stroke-width="1.75" stroke-linejoin="round" stroke-linecap="butt"/>
<path d="M1405.80 696.00 C1405.92 696.67 1406.62 688.32 1406.50 700.00 C1406.38 711.68 1403.78 747.58 1405.10 766.10 C1406.42 784.62 1409.77 795.67 1414.40 811.10 C1419.03 826.53 1427.83 843.70 1432.90 858.70 C1437.97 873.70 1441.72 886.98 1444.80 901.10 C1447.88 915.22 1449.63 930.18 1451.40 943.40 C1453.17 956.62 1455.40 968.93 1455.40 980.40 C1455.40 991.87 1453.37 1002.27 1451.40 1012.20 C1449.43 1022.13 1446.70 1030.57 1443.60 1040.00 C1440.50 1049.43 1434.60 1064.00 1432.80 1068.80" fill="none" stroke="#008000" stroke-width="1.75" stroke-linejoin="round" stroke-linecap="butt"/>
<path d="M1470.0 123.0 L1455.8 124.0 L1418.7 126.0 L1421.4 129.2 L1428.0 130.6 L1469.0 133.2 L1412.0 137.8 L1477.0 136.5 L1417.4 143.8 L1475.6 150.4 L1421.4 153.0 L1409.5 156.4 L1386.3 158.3 L1388.0 170.0 L1386.3 185.0 L1389.0 195.0 L1386.3 204.0 L1406.8 208.0 L1414.7 210.6 L1422.7 213.2 L1387.0 215.9 L1391.0 223.8 L1396.2 233.0 L1418.7 238.4 L1436.0 242.3 L1600.0 244.3 L1386.3 250.3 L1391.0 260.9 L1386.3 264.8 L1386.3 274.0 L1620.0 277.5 L1386.3 280.0" fill="none" stroke="#00ffff" stroke-width="1.75" stroke-linejoin="round" stroke-linecap="butt"/>
<path d="M1384.0 310.6 L1386.0 310.6 L1389.6 311.7 L1386.0 313.5 L1399.2 316.5 L1397.7 317.9 L1388.1 319.8 L1417.9 321.6 L1388.9 324.2 L1393.3 326.4 L1384.0 328.2" fill="none" stroke="#00ffff" stroke-width="1.75" stroke-linejoin="round" stroke-linecap="butt"/>
<path d="M1384.0 346.6 L1625.0 347.0" fill="none" stroke="#00ffff" stroke-width="1.75" stroke-linejoin="round" stroke-linecap="butt"/>
<path d="M1625.0 349.6 L1384.0 350.6" fill="none" stroke="#00ffff" stroke-width="1.75" stroke-linejoin="round" stroke-linecap="butt"/>
<path d="M1384.0 352.0 L1461.0 353.2 L1384.0 354.7" fill="none" stroke="#00ffff" stroke-width="1.75" stroke-linejoin="round" stroke-linecap="butt"/>
<path d="M1384.0 365.5 L1387.5 366.5 L1384.0 367.5" fill="none" stroke="#00ffff" stroke-width="1.75" stroke-linejoin="round" stroke-linecap="butt"/>
<path d="M1384.0 375.0 L1390.0 376.0 L1384.0 377.0" fill="none" stroke="#00ffff" stroke-width="1.75" stroke-linejoin="round" stroke-linecap="butt"/>
<path d="M1386.3 485.0 L1390.0 487.5 L1393.4 491.2 L1397.5 495.0 L1397.6 498.3 L1398.3 501.7 L1400.0 505.0 L1402.7 508.3 L1403.5 511.7 L1405.0 515.0 L1407.4 518.8 L1408.8 522.5 L1406.4 526.2 L1403.8 530.0 L1404.7 533.3 L1406.9 536.7 L1407.5 540.0 L1412.5 545.0 L1409.6 548.8 L1406.3 552.5 L1405.8 556.0 L1404.2 559.5 L1403.4 563.0 L1401.1 566.5 L1400.0 570.0 L1396.6 573.3 L1394.1 576.7 L1392.5 580.0 L1393.7 583.1 L1392.9 586.2 L1394.8 589.4 L1395.0 592.5 L1394.7 595.6 L1392.6 598.8 L1393.9 601.9 L1391.3 605.0 L1392.8 608.1 L1392.1 611.2 L1389.9 614.4 L1390.0 617.5 L1390.8 620.6 L1390.9 623.8 L1389.5 626.9 L1391.1 630.0 L1389.8 633.1 L1392.0 636.2 L1391.6 639.4 L1391.3 642.5 L1393.0 645.6 L1391.1 648.8 L1392.2 651.9 L1393.5 655.0 L1393.9 658.1 L1393.2 661.2 L1395.5 664.4 L1395.0 667.5 L1395.6 670.6 L1393.9 673.8 L1393.1 676.9 L1394.2 680.0 L1393.2 683.1 L1393.5 686.2 L1392.8 689.4 L1392.5 692.5 L1391.9 696.2 L1391.9 700.0 L1390.6 703.1 L1390.8 706.1 L1391.5 709.2 L1392.1 712.2 L1391.2 715.3 L1391.9 718.3 L1391.3 721.4 L1392.1 724.4 L1391.4 727.5 L1390.4 730.5 L1389.9 733.6 L1389.6 736.6 L1390.6 739.7 L1389.6 742.8 L1392.0 745.9 L1392.2 749.0 L1392.1 752.0 L1390.7 755.1 L1391.9 758.2 L1392.1 761.3 L1390.6 764.5 L1392.4 767.6 L1391.6 770.7 L1391.7 773.8 L1391.1 777.0 L1390.5 780.1 L1391.4 783.2 L1391.5 786.3 L1389.5 789.5 L1390.0 792.6 L1390.1 795.7 L1391.1 798.7 L1391.2 801.8 L1390.8 804.8 L1391.1 807.9 L1392.7 810.9 L1391.1 814.0 L1391.2 817.0 L1392.7 820.1 L1391.9 823.1 L1393.7 826.2 L1392.5 829.2 L1393.2 832.3 L1394.6 835.4 L1393.5 838.4 L1395.1 841.5 L1395.1 844.5 L1395.3 847.6 L1394.3 850.6 L1394.5 853.7 L1394.4 856.7 L1395.1 859.8 L1396.7 862.8 L1395.5 865.9 L1396.2 868.9 L1397.2 872.0 L1397.7 875.1 L1396.9 878.2 L1397.6 881.2 L1397.6 884.3 L1399.1 887.4 L1397.9 890.5 L1400.5 893.6 L1399.7 896.7 L1400.3 899.8 L1400.2 902.8 L1400.3 905.9 L1400.6 909.0 L1401.6 912.0 L1401.1 915.0 L1400.7 918.1 L1398.4 921.1 L1399.6 924.1 L1400.3 927.1 L1399.3 930.1 L1398.7 933.2 L1398.8 936.2 L1397.3 939.2 L1398.5 942.2 L1398.4 945.3 L1396.3 948.3 L1397.2 951.3 L1397.9 954.6 L1398.8 957.9 L1398.8 961.2 L1400.3 964.5 L1401.6 967.9 L1402.2 971.2 L1401.3 974.5 L1402.5 977.8 L1401.8 980.9 L1403.8 983.9 L1403.4 987.0 L1404.2 990.0 L1404.5 993.1 L1403.1 996.1 L1404.1 999.2 L1403.6 1002.2 L1405.1 1005.3 L1405.0 1008.3 L1404.0 1011.4 L1404.9 1014.4 L1405.1 1017.5" fill="none" stroke="#00ffff" stroke-width="1.75" stroke-linejoin="round" stroke-linecap="butt"/>
<path d="M1405.10 1017.50 C1405.08 1021.25 1404.43 1032.92 1405.00 1040.00 C1405.57 1047.08 1407.57 1054.80 1408.50 1060.00 C1409.43 1065.20 1409.35 1067.33 1410.60 1071.20 C1411.85 1075.07 1413.10 1080.00 1416.00 1083.20 C1418.90 1086.40 1422.00 1088.50 1428.00 1090.40 C1434.00 1092.30 1440.00 1093.50 1452.00 1094.60 C1464.00 1095.70 1472.00 1096.50 1500.00 1097.00 C1528.00 1097.50 1600.00 1097.50 1620.00 1097.60" fill="none" stroke="#00ffff" stroke-width="1.75" stroke-linejoin="round" stroke-linecap="butt"/>
<path d="M1620.0 1097.6 L1620.0 1099.4 L1380.0 1099.4" fill="none" stroke="#00ffff" stroke-width="1.75" stroke-linejoin="round" stroke-linecap="butt"/>
<path d="M1380.00 1120.00 C1380.90 1121.27 1383.00 1123.53 1385.40 1127.60 C1387.80 1131.67 1391.90 1138.00 1394.40 1144.40 C1396.90 1150.80 1399.00 1157.30 1400.40 1166.00 C1401.80 1174.70 1402.40 1191.50 1402.80 1196.60" fill="none" stroke="#00ffff" stroke-width="1.75" stroke-linejoin="round" stroke-linecap="butt"/>
<path d="M1386.30 493.80 C1387.13 495.67 1390.05 498.97 1391.30 505.00 C1392.55 511.03 1392.77 522.50 1393.80 530.00 C1394.83 537.50 1397.30 543.33 1397.50 550.00 C1397.70 556.67 1396.25 564.17 1395.00 570.00 C1393.75 575.83 1391.25 580.00 1390.00 585.00 C1388.75 590.00 1387.08 595.00 1387.50 600.00 C1387.92 605.00 1390.20 609.58 1392.50 615.00 C1394.80 620.42 1399.22 626.67 1401.30 632.50 C1403.38 638.33 1403.88 643.75 1405.00 650.00 C1406.12 656.25 1407.58 662.92 1408.00 670.00 C1408.42 677.08 1407.75 687.50 1407.50 692.50 C1407.25 697.50 1406.67 685.52 1406.50 700.00 C1406.33 714.48 1403.87 756.47 1406.50 779.40 C1409.13 802.33 1417.90 822.62 1422.30 837.60 C1426.70 852.58 1428.93 856.52 1432.90 869.30 C1436.87 882.08 1443.98 900.18 1446.10 914.30 C1448.22 928.42 1443.83 942.53 1445.60 954.00 C1447.37 965.47 1454.18 975.17 1456.70 983.10 C1459.22 991.03 1460.98 992.12 1460.70 1001.60 C1460.42 1011.08 1456.45 1031.60 1455.00 1040.00 C1453.55 1048.40 1453.30 1047.20 1452.00 1052.00 C1450.70 1056.80 1448.00 1066.00 1447.20 1068.80" fill="none" stroke="#00ff00" stroke-width="1.75" stroke-linejoin="round" stroke-linecap="butt"/>
</g>
<g clip-path="url(#cp5)">
<path d="M1699.4 123.5 L1699.8 125.1 L1699.3 126.7 L1700.3 128.3 L1699.4 129.9 L1699.9 131.5 L1700.5 133.1 L1699.6 134.7 L1700.5 136.3 L1700.2 137.9 L1699.9 139.5 L1700.0 141.1 L1699.9 142.7 L1699.6 144.3 L1700.6 145.9 L1699.6 147.5 L1700.5 149.1 L1700.3 150.7 L1699.0 152.3 L1699.4 153.9 L1699.7 155.5 L1700.3 157.1 L1699.3 158.7 L1700.0 160.3 L1699.6 161.9 L1700.2 163.5 L1700.4 165.1 L1700.2 166.7 L1699.3 168.3 L1700.2 169.9 L1699.7 171.5 L1700.3 173.1 L1699.7 174.7 L1700.4 176.3 L1700.5 177.9 L1700.3 179.5 L1700.3 181.1 L1700.3 182.7 L1699.9 184.3 L1699.3 185.9 L1700.5 187.5 L1699.7 189.1 L1699.0 190.7 L1699.7 192.3 L1699.6 193.9 L1699.3 195.5 L1700.5 197.1 L1699.2 198.7 L1700.4 200.3 L1699.8 201.9 L1699.3 203.5 L1699.5 205.1 L1699.7 206.7 L1699.2 208.3 L1700.2 209.9 L1700.0 211.5 L1700.5 213.1 L1700.2 214.7 L1700.2 216.3 L1700.5 217.9 L1700.4 219.5 L1700.0 221.1 L1699.8 222.7 L1699.8 224.3 L1700.2 225.9 L1700.4 227.5 L1700.2 229.1 L1700.2 230.7 L1699.0 232.3 L1699.6 233.9 L1699.1 235.5 L1699.9 237.1 L1699.9 238.7 L1699.8 240.3 L1700.3 241.9 L1699.3 243.5 L1700.1 245.1 L1699.9 246.7 L1699.3 248.3 L1700.4 249.9 L1699.1 251.5 L1699.7 253.1 L1699.8 254.7 L1699.9 256.3 L1700.4 257.9 L1699.8 259.5 L1700.3 261.1 L1699.4 262.7 L1699.7 264.3 L1699.2 265.9 L1699.9 267.5 L1699.6 269.1 L1700.1 270.7 L1699.2 272.3 L1699.7 273.9 L1700.4 275.5 L1699.0 277.1 L1699.9 278.7 L1700.0 280.3 L1700.0 281.9 L1699.8 283.5 L1699.7 285.1 L1700.4 286.7 L1699.4 288.3 L1700.0 289.9 L1699.9 291.5 L1700.0 293.1 L1699.7 294.7 L1699.0 296.3 L1700.1 297.9 L1699.4 299.5 L1700.1 301.1 L1700.4 302.7 L1700.1 304.3 L1699.6 305.9 L1700.2 307.5 L1699.5 309.1 L1699.4 310.7 L1699.8 312.3 L1699.9 313.9 L1700.0 315.5 L1699.8 317.1 L1699.6 318.7 L1700.0 320.3 L1699.5 321.9 L1699.8 323.5 L1699.0 325.1 L1699.2 326.7 L1700.2 328.3 L1699.3 329.9 L1699.6 331.5 L1699.1 333.1 L1700.1 334.7 L1699.5 336.3 L1699.1 337.9 L1699.4 339.5 L1700.3 341.1 L1700.0 342.7 L1699.0 344.3 L1700.3 345.9 L1699.1 347.5 L1699.7 349.1 L1699.7 350.7 L1700.1 352.3 L1699.2 353.9 L1700.1 355.5 L1699.4 357.1 L1700.0 358.7 L1700.2 360.3 L1699.8 361.9 L1699.0 363.5 L1699.9 365.1 L1699.6 366.7 L1700.0 368.3 L1700.0 369.9 L1699.1 371.5 L1699.8 373.1 L1699.9 374.7 L1700.2 376.3 L1699.8 377.9 L1699.8 379.5 L1700.0 381.1 L1699.2 382.7 L1700.1 384.3 L1699.8 385.9 L1699.8 387.5 L1699.2 389.1 L1699.7 390.7 L1699.5 392.3 L1699.3 393.9 L1700.2 395.5 L1700.1 397.1 L1699.6 398.7 L1699.1 400.3 L1700.3 401.9 L1699.2 403.5 L1699.7 405.1 L1699.7 406.7 L1700.1 408.3 L1699.8 409.9 L1699.8 411.5 L1699.7 413.1 L1700.3 414.7 L1700.1 416.3 L1699.5 417.9 L1700.0 419.5 L1700.2 421.1 L1699.6 422.7 L1699.1 424.3 L1699.1 425.9 L1700.2 427.5 L1699.3 429.1 L1700.0 430.7 L1699.2 432.3 L1699.3 433.9 L1699.2 435.5 L1700.0 437.1 L1699.1 438.7 L1699.6 440.3 L1700.0 441.9 L1699.7 443.5 L1699.0 445.1 L1699.0 446.7 L1700.0 448.3 L1699.4 449.9 L1699.1 451.5 L1699.7 453.1 L1700.0 454.7 L1699.4 456.3 L1699.2 457.9 L1699.2 459.5 L1699.6 461.1 L1700.0 462.7 L1699.1 464.3 L1699.9 465.9 L1699.8 467.5 L1699.7 469.1 L1699.5 470.7 L1699.0 472.3 L1699.6 473.9 L1699.5 475.5 L1699.8 477.1 L1699.1 478.7 L1699.2 480.3 L1699.0 481.9 L1699.6 483.5 L1699.1 485.1 L1699.6 486.7 L1699.5 488.3 L1699.4 489.9 L1699.2 491.5 L1700.1 493.1 L1699.6 494.7 L1699.1 496.3 L1699.7 497.9 L1699.9 499.5 L1699.6 501.1 L1700.1 502.7 L1700.0 504.3 L1699.8 505.9 L1699.0 507.5 L1699.5 509.1 L1699.6 510.7 L1699.2 512.3 L1699.6 513.9 L1699.8 515.5 L1699.9 517.1 L1699.9 518.7 L1699.9 520.3 L1699.4 521.9 L1699.7 523.5 L1699.6 525.1 L1699.9 526.7 L1699.2 528.3 L1699.2 529.9 L1699.8 531.5 L1699.8 533.1 L1699.3 534.7 L1699.9 536.3 L1699.9 537.9 L1699.8 539.5 L1699.5 541.1 L1699.1 542.7 L1699.3 544.3 L1699.9 545.9 L1700.1 547.5 L1699.2 549.1 L1699.1 550.7 L1699.4 552.3 L1700.1 553.9 L1699.3 555.5 L1700.1 557.1 L1699.9 558.7 L1700.0 560.3 L1700.1 561.9 L1699.8 563.5 L1699.2 565.1 L1699.5 566.7 L1699.5 568.3 L1699.8 569.9 L1699.4 571.5 L1699.8 573.1 L1699.1 574.7 L1699.3 576.3 L1699.3 577.9 L1699.2 579.5 L1699.8 581.1 L1700.0 582.7 L1699.1 584.3 L1699.5 585.9 L1699.0 587.5 L1699.3 589.1 L1699.2 590.7 L1699.8 592.3 L1699.9 593.9 L1699.9 595.5 L1699.3 597.1 L1699.5 598.7 L1699.3 600.3 L1699.7 601.9 L1699.3 603.5 L1699.8 605.1 L1699.5 606.7 L1699.6 608.3 L1700.0 609.9 L1700.0 611.5 L1699.3 613.1 L1699.8 614.7 L1699.3 616.3 L1699.0 617.9 L1699.9 619.5 L1699.2 621.1 L1699.3 622.7 L1699.8 624.3 L1699.9 625.9 L1699.4 627.5 L1699.8 629.1 L1699.4 630.7 L1699.0 632.3 L1699.6 633.9 L1699.2 635.5 L1699.2 637.1 L1699.5 638.7 L1699.7 640.3 L1699.3 641.9 L1699.3 643.5 L1699.6 645.1 L1699.3 646.7 L1699.6 648.3 L1699.7 649.9 L1699.3 651.5 L1700.0 653.1 L1700.0 654.7 L1699.1 656.3 L1699.1 657.9 L1699.1 659.5 L1699.5 661.1 L1699.3 662.7 L1699.8 664.3 L1700.0 665.9 L1699.5 667.5 L1699.3 669.1 L1699.3 670.7 L1699.9 672.3 L1699.9 673.9 L1699.9 675.5 L1700.0 677.1 L1699.5 678.7 L1699.8 680.3 L1699.4 681.9 L1699.2 683.5 L1699.7 685.1 L1699.4 686.7 L1699.6 688.3 L1699.6 689.9 L1699.3 691.5 L1699.1 693.1 L1699.8 694.7 L1699.8 696.3 L1699.8 697.9 L1699.4 699.5 L1699.4 701.1 L1699.6 702.7 L1699.4 704.3 L1699.8 705.9 L1699.5 707.5 L1699.5 709.1 L1699.9 710.7 L1699.2 712.3 L1699.2 713.9 L1699.5 715.5 L1699.9 717.1 L1699.9 718.7 L1699.9 720.3 L1699.2 721.9 L1699.3 723.5 L1699.3 725.1 L1699.3 726.7 L1699.2 728.3 L1699.2 729.9 L1699.8 731.5 L1699.5 733.1 L1700.0 734.7 L1699.6 736.3 L1699.8 737.9 L1699.9 739.5 L1699.6 741.1 L1699.3 742.7 L1699.4 744.3 L1699.5 745.9 L1699.2 747.5 L1699.6 749.1 L1699.8 750.7 L1699.3 752.3 L1699.1 753.9 L1699.1 755.5 L1699.4 757.1 L1699.2 758.7 L1699.5 760.3 L1699.9 761.9 L1699.3 763.5 L1699.4 765.1 L1699.6 766.7 L1699.2 768.3 L1699.9 769.9 L1700.1 771.5 L1699.2 773.1 L1699.6 774.7 L1700.1 776.3 L1699.4 777.9 L1699.9 779.5 L1700.2 781.1 L1700.4 782.7 L1699.8 784.3 L1700.5 785.9 L1700.3 787.5 L1700.4 789.1 L1700.0 790.7 L1699.9 792.3 L1700.4 793.9 L1700.9 795.5 L1700.3 797.1 L1701.0 798.7 L1701.0 800.3 L1700.6 801.9 L1700.7 803.5 L1701.1 805.1 L1700.4 806.7 L1700.9 808.3 L1700.6 809.9 L1701.2 811.5 L1701.0 813.1 L1701.2 814.7 L1701.1 816.3 L1701.5 817.9 L1701.5 819.5 L1700.9 821.1 L1701.4 822.7 L1701.2 824.3 L1701.8 825.9 L1701.9 827.5 L1701.8 829.1 L1701.8 830.7 L1702.0 832.3 L1701.5 833.9 L1701.6 835.5 L1702.2 837.1 L1702.0 838.7 L1701.8 840.3 L1702.3 841.9 L1702.2 843.5 L1701.7 845.1 L1702.5 846.7 L1702.4 848.3 L1702.5 849.9 L1702.0 851.5 L1702.0 853.1 L1702.1 854.7 L1702.7 856.3 L1702.2 857.9 L1704.3 861.3 L1704.1 864.7 L1706.5 868.1 L1707.4 871.5 L1709.3 874.7 L1712.1 877.9 L1713.2 881.0 L1715.3 884.2 L1718.7 887.8 L1720.3 891.3 L1724.4 894.9 L1726.4 898.4 L1728.2 901.5 L1729.6 905.1 L1730.7 908.7 L1732.5 912.3 L1734.2 915.9 L1735.6 919.9 L1735.9 923.8 L1737.8 927.8 L1737.9 930.8 L1737.6 933.8 L1738.0 936.8 L1739.0 939.8 L1736.9 943.8 L1735.4 947.7 L1734.2 951.7 L1730.7 955.3 L1728.3 958.9 L1724.7 962.5 L1723.8 966.1 L1723.7 969.6 L1722.3 973.2 L1724.4 976.2 L1725.9 979.2 L1727.4 982.2 L1728.2 985.2 L1728.7 988.4 L1729.3 991.6 L1730.0 994.8 L1729.9 997.9 L1729.6 1001.1 L1730.6 1004.3 L1730.2 1007.5 L1729.8 1010.7 L1728.9 1013.8 L1728.3 1017.0 L1728.1 1020.2 L1728.2 1023.4 L1727.7 1026.6 L1727.1 1029.8 L1726.1 1033.0 L1724.9 1036.1 L1723.5 1039.3 L1723.5 1042.5 L1722.5 1045.7 L1723.3 1048.9 L1722.9 1052.0 L1722.6 1055.2 L1722.0 1058.4 L1722.3 1061.6 L1721.8 1064.6 L1722.0 1067.7 L1722.0 1070.7 L1722.9 1073.8 L1722.5 1076.8 L1723.0 1079.9 L1723.0 1082.9 L1723.2 1086.0 L1723.7 1089.0 L1723.8 1092.1 L1723.5 1095.1 L1724.1 1098.7 L1726.6 1102.2 L1727.6 1105.8 L1728.2 1109.4 L1731.9 1112.6 L1734.5 1115.8 L1737.8 1119.0 L1735.4 1123.8 L1738.1 1127.0 L1739.9 1130.2 L1741.0 1133.3 L1743.7 1136.5 L1746.0 1139.7 L1747.4 1142.9 L1747.8 1146.5 L1748.0 1150.1 L1747.4 1153.6 L1747.4 1157.2 L1749.1 1160.6 L1749.5 1164.0 L1751.8 1167.4 L1752.4 1170.8 L1754.7 1174.2 L1755.7 1177.6 L1770.1 1185.9 L1758.1 1190.7 L1778.4 1194.3 L1935.0 1195.0" fill="none" stroke="#0000ff" stroke-width="1.75" stroke-linejoin="round" stroke-linecap="butt"/>
<path d="M1709.9 123.5 L1711.0 125.1 L1715.5 126.7 L1706.7 128.3 L1706.7 129.9 L1713.3 131.5 L1709.6 133.1 L1707.4 134.7 L1708.2 136.3 L1706.8 137.9 L1703.9 139.5 L1712.1 141.1 L1716.6 142.7 L1713.0 144.3 L1712.1 145.9 L1706.9 147.5 L1708.5 149.1 L1703.5 150.7 L1713.6 152.3 L1706.1 153.9 L1706.0 155.5 L1717.8 157.1 L1706.8 158.7 L1717.7 160.3 L1711.5 161.9 L1713.9 163.5 L1711.6 165.1 L1704.0 166.7 L1713.0 168.3 L1705.3 169.9 L1707.8 171.5 L1703.2 173.1 L1702.0 174.7 L1707.1 176.3 L1701.2 177.9 L1707.4 179.5 L1715.0 181.1 L1717.4 182.7 L1707.9 184.3 L1702.8 185.9 L1706.7 187.5 L1702.0 189.1 L1704.5 190.7 L1711.1 192.3 L1711.0 193.9 L1701.5 195.5 L1708.8 197.1 L1707.8 198.7 L1707.4 200.3 L1703.1 201.9 L1707.2 203.5 L1702.6 205.1 L1711.7 206.7 L1711.1 208.3 L1710.7 209.9 L1707.2 211.5 L1715.7 213.1 L1706.5 214.7 L1704.0 216.3 L1706.5 217.9 L1714.8 219.5 L1703.2 221.1 L1712.4 222.7 L1714.9 224.3 L1713.6 225.9 L1707.7 227.5 L1707.4 229.1 L1713.7 230.7 L1711.2 232.3 L1712.6 233.9 L1703.3 235.5 L1709.5 237.1 L1711.4 238.7 L1704.0 240.3 L1703.6 241.9 L1712.7 243.5 L1708.7 245.1 L1706.4 246.7 L1707.4 248.3 L1704.1 249.9 L1704.0 251.5 L1701.9 253.1 L1706.1 254.7 L1702.5 256.3 L1712.9 257.9 L1713.6 259.5 L1708.5 261.1 L1701.6 262.7 L1708.5 264.3 L1702.4 265.9 L1705.3 267.5 L1702.0 269.1 L1706.9 270.7 L1701.2 272.3 L1704.0 273.9 L1703.3 275.5 L1706.3 277.1 L1712.4 278.7 L1707.7 280.3 L1710.3 281.9 L1709.5 283.5 L1707.0 285.1 L1701.0 286.7 L1700.8 288.3 L1701.8 289.9 L1706.6 291.5 L1704.3 293.1 L1711.7 294.7 L1702.5 296.3 L1701.6 297.9 L1707.9 299.5 L1707.4 301.1 L1700.6 302.7 L1704.1 304.3 L1705.3 305.9 L1709.8 307.5 L1709.2 309.1 L1710.3 310.7 L1706.2 312.3 L1710.9 313.9 L1705.3 315.5 L1703.1 317.1 L1701.4 318.7 L1709.4 320.3 L1707.2 321.9 L1706.8 323.5 L1710.9 325.1 L1706.8 326.7 L1703.1 328.3 L1707.4 329.9 L1710.0 331.5 L1701.6 333.1 L1710.0 334.7 L1704.1 336.3 L1700.7 337.9 L1705.1 339.5 L1708.0 341.1 L1704.8 342.7 L1702.4 344.3 L1707.7 345.9 L1700.6 347.5 L1706.6 349.1 L1703.3 350.7 L1705.9 352.3 L1704.8 353.9 L1702.4 355.5 L1701.6 357.1 L1707.9 358.7 L1704.2 360.3 L1702.4 361.9 L1705.5 363.5 L1707.2 365.1 L1700.4 366.7 L1704.0 368.3 L1701.0 369.9 L1707.0 371.5 L1700.0 373.1 L1707.5 374.7 L1704.9 376.3 L1704.4 377.9 L1704.6 379.5 L1702.1 381.1 L1703.7 382.7 L1701.1 384.3 L1702.8 385.9 L1705.0 387.5 L1705.1 389.1 L1702.5 390.7 L1705.1 392.3 L1706.5 393.9 L1706.4 395.5 L1699.6 397.1 L1703.9 398.7 L1701.0 400.3 L1706.6 401.9 L1704.5 403.5 L1703.3 405.1 L1704.7 406.7 L1703.8 408.3 L1701.3 409.9 L1707.1 411.5 L1700.0 413.1 L1699.8 414.7 L1701.9 416.3 L1700.7 417.9 L1702.5 419.5 L1704.4 421.1 L1702.6 422.7 L1707.1 424.3 L1702.1 425.9 L1706.7 427.5 L1707.0 429.1 L1703.7 430.7 L1705.6 432.3 L1700.1 433.9 L1706.4 435.5 L1702.8 437.1 L1702.0 438.7 L1706.1 440.3 L1702.4 441.9 L1700.2 443.5 L1699.8 445.1 L1705.1 446.7 L1700.8 448.3 L1703.9 449.9 L1700.2 451.5 L1705.0 453.1 L1706.0 454.7 L1702.0 456.3 L1704.7 457.9 L1705.3 459.5 L1701.1 461.1 L1702.6 462.7 L1705.8 464.3 L1705.5 465.9 L1703.0 467.5 L1702.9 469.1 L1699.7 470.7 L1704.6 472.3 L1705.3 473.9 L1703.0 475.5 L1701.1 477.1 L1700.5 478.7 L1703.5 480.3 L1703.9 481.9 L1703.3 483.5 L1704.7 485.1 L1700.1 486.7 L1699.9 488.3 L1700.5 489.9 L1701.7 491.5 L1700.3 493.1 L1701.4 494.7 L1701.2 496.3 L1704.7 497.9 L1703.1 499.5 L1701.2 501.1 L1703.0 502.7 L1701.0 504.3 L1705.7 505.9 L1700.7 507.5 L1701.6 509.1 L1703.4 510.7 L1705.2 512.3 L1703.9 513.9 L1701.1 515.5 L1703.7 517.1 L1704.4 518.7 L1705.5 520.3 L1703.9 521.9 L1701.8 523.5 L1704.9 525.1 L1704.3 526.7 L1705.3 528.3 L1701.7 529.9 L1705.0 531.5 L1703.2 533.1 L1701.8 534.7 L1702.0 536.3 L1701.3 537.9 L1705.4 539.5 L1701.5 541.1 L1704.1 542.7 L1702.1 544.3 L1702.2 545.9 L1702.7 547.5 L1705.2 549.1 L1701.3 550.7 L1702.9 552.3 L1702.6 553.9 L1703.4 555.5 L1704.0 557.1 L1705.2 558.7 L1704.1 560.3 L1705.1 561.9 L1705.2 563.5 L1704.8 565.1 L1701.0 566.7 L1701.2 568.3 L1703.4 569.9 L1701.8 571.5 L1702.5 573.1 L1703.3 574.7 L1703.3 576.3 L1704.4 577.9 L1704.4 579.5 L1701.7 581.1 L1703.4 582.7 L1702.9 584.3 L1702.7 585.9 L1704.0 587.5 L1703.9 589.1 L1703.9 590.7 L1702.4 592.3 L1701.0 593.9 L1703.2 595.5 L1701.7 597.1 L1701.9 598.7 L1701.0 600.3 L1700.8 601.9 L1702.5 603.5 L1704.8 605.1 L1703.2 606.7 L1701.6 608.3 L1704.6 609.9 L1701.3 611.5 L1703.3 613.1 L1700.7 614.7 L1704.5 616.3 L1704.3 617.9 L1703.9 619.5 L1701.9 621.1 L1702.2 622.7 L1702.4 624.3 L1704.2 625.9 L1702.7 627.5 L1701.3 629.1 L1704.0 630.7 L1701.9 632.3 L1703.2 633.9 L1704.1 635.5 L1703.3 637.1 L1700.6 638.7 L1703.5 640.3 L1701.9 641.9 L1704.1 643.5 L1701.6 645.1 L1700.7 646.7 L1700.5 648.3 L1704.0 649.9 L1701.7 651.5 L1700.0 653.1 L1702.0 654.7 L1703.7 656.3 L1700.8 657.9 L1703.6 659.5 L1703.8 661.1 L1700.8 662.7 L1700.8 664.3 L1700.5 665.9 L1700.3 667.5 L1700.0 669.1 L1700.8 670.7 L1702.9 672.3 L1701.6 673.9 L1701.5 675.5 L1702.2 677.1 L1700.4 678.7 L1702.7 680.3 L1700.8 681.9 L1701.8 683.5 L1700.7 685.1 L1700.8 686.7 L1700.5 688.3 L1701.3 689.9 L1701.4 691.5 L1700.3 693.1 L1702.7 694.7 L1701.0 696.3 L1702.2 697.9 L1700.5 699.5 L1700.1 701.1 L1703.1 702.7 L1700.7 704.3 L1699.9 705.9 L1702.9 707.5 L1701.3 709.1 L1699.9 710.7 L1701.9 712.3 L1701.0 713.9 L1702.9 715.5 L1702.4 717.1 L1701.9 718.7 L1702.0 720.3 L1700.8 721.9 L1702.6 723.5 L1702.7 725.1 L1700.6 726.7 L1700.0 728.3 L1700.1 729.9 L1701.4 731.5 L1701.6 733.1 L1702.2 734.7 L1702.4 736.3 L1700.9 737.9 L1701.1 739.5 L1700.9 741.1 L1702.3 742.7 L1700.4 744.3 L1700.2 745.9 L1700.4 747.5 L1702.3 749.1 L1700.3 750.7 L1702.4 752.3 L1700.5 753.9 L1700.8 755.5 L1700.3 757.1 L1702.3 758.7 L1700.0 760.3 L1700.2 761.9 L1701.5 763.5 L1701.0 765.1 L1700.7 766.7 L1700.9 768.3 L1702.0 769.9 L1700.3 771.5 L1701.3 773.1 L1700.5 774.7 L1701.3 776.3 L1701.1 777.9 L1701.2 779.5 L1701.0 781.1 L1700.4 782.7 L1700.9 784.3 L1702.1 785.9 L1701.4 787.5 L1700.9 789.1 L1700.9 790.7 L1702.3 792.3 L1701.2 793.9 L1702.9 795.5 L1702.0 797.1 L1701.1 798.7 L1701.7 800.3 L1702.4 801.9 L1703.2 803.5 L1703.1 805.1 L1701.7 806.7 L1702.6 808.3 L1702.5 809.9 L1703.2 811.5 L1701.9 813.1 L1702.6 814.7 L1702.8 816.3 L1702.6 817.9 L1702.7 819.5 L1701.8 821.1 L1702.2 822.7 L1703.7 824.3 L1702.6 825.9 L1703.9 827.5 L1702.1 829.1 L1702.2 830.7 L1703.8 832.3 L1702.8 833.9 L1703.9 835.5 L1702.4 837.1 L1703.5 838.7 L1704.0 840.3 L1703.1 841.9 L1704.1 843.5 L1704.0 845.1 L1704.2 846.7 L1703.5 848.3 L1703.2 849.9 L1703.6 851.5 L1703.5 853.1 L1703.5 854.7 L1704.6 856.3 L1703.5 857.9 L1705.3 859.5 L1706.1 861.1 L1709.0 865.2 L1713.0 868.9 L1714.7 872.6 L1718.5 876.3 L1725.7 879.5 L1731.1 882.6 L1733.4 885.8 L1736.7 888.9 L1740.4 892.1 L1742.2 895.2 L1745.3 898.4 L1747.4 901.5 L1749.2 904.8 L1750.3 908.1 L1753.6 911.4 L1754.5 914.7 L1762.9 918.2 L1764.8 921.5 L1764.0 924.8 L1764.8 928.1 L1766.5 931.4 L1767.6 935.6 L1768.9 939.8 L1766.5 943.8 L1764.7 947.7 L1761.7 951.7 L1756.6 955.3 L1752.3 958.9 L1747.4 962.5 L1744.3 966.6 L1742.6 970.8 L1743.2 974.0 L1744.2 977.2 L1746.2 980.4 L1754.5 985.2 L1755.2 988.8 L1755.8 992.4 L1756.5 995.9 L1756.9 999.5 L1758.6 1002.7 L1758.1 1005.9 L1759.3 1009.1 L1757.5 1012.7 L1756.2 1016.2 L1755.7 1019.8 L1753.3 1023.4 L1751.4 1027.0 L1749.9 1030.5 L1748.7 1034.1 L1747.4 1037.7 L1746.6 1041.1 L1744.6 1044.4 L1743.1 1047.8 L1743.1 1051.1 L1741.4 1054.5 L1742.0 1057.8 L1742.5 1061.2 L1741.9 1064.5 L1742.8 1067.9 L1743.8 1071.2 L1743.0 1074.6 L1743.5 1078.0 L1744.6 1081.4 L1744.8 1084.9 L1744.5 1088.3 L1743.5 1091.7 L1743.8 1095.1 L1746.0 1098.7 L1748.7 1102.2 L1749.7 1105.8 L1752.1 1109.4 L1758.3 1112.6 L1765.3 1115.8 L1771.3 1119.0 L1768.6 1122.0 L1766.5 1125.0 L1770.0 1128.0 L1773.7 1131.0 L1780.6 1135.0 L1788.7 1138.9 L1795.2 1142.9 L1800.0 1146.1 L1803.9 1149.3 L1809.5 1152.5 L1812.1 1156.0 L1816.7 1159.6 L1823.6 1162.6 L1829.1 1165.6 L1836.8 1168.6 L1843.0 1171.6 L1847.2 1175.2 L1852.5 1178.8 L1871.6 1182.3 L1896.7 1186.4 L1865.7 1191.2 L1878.8 1193.1 L1935.0 1194.3" fill="none" stroke="#008000" stroke-width="1.75" stroke-linejoin="round" stroke-linecap="butt"/>
</g>
<rect x="132.5" y="123.5" width="231.0" height="1075.0" fill="none" stroke="#000" stroke-width="1.1"/>
<rect x="136.0" y="1198.5" width="2" height="6" fill="#000"/>
<rect x="136.0" y="117.5" width="2" height="6" fill="#000"/>
<rect x="227.0" y="1198.5" width="2" height="6" fill="#000"/>
<rect x="227.0" y="117.5" width="2" height="6" fill="#000"/>
<rect x="317.0" y="1198.5" width="2" height="6" fill="#000"/>
<rect x="317.0" y="117.5" width="2" height="6" fill="#000"/>
<rect x="126.0" y="1197.0" width="6" height="2" fill="#000"/>
<rect x="364.0" y="1197.0" width="6" height="2" fill="#000"/>
<rect x="126.0" y="982.0" width="6" height="2" fill="#000"/>
<rect x="364.0" y="982.0" width="6" height="2" fill="#000"/>
<rect x="126.0" y="767.0" width="6" height="2" fill="#000"/>
<rect x="364.0" y="767.0" width="6" height="2" fill="#000"/>
<rect x="126.0" y="552.0" width="6" height="2" fill="#000"/>
<rect x="364.0" y="552.0" width="6" height="2" fill="#000"/>
<rect x="126.0" y="337.0" width="6" height="2" fill="#000"/>
<rect x="364.0" y="337.0" width="6" height="2" fill="#000"/>
<rect x="126.0" y="122.0" width="6" height="2" fill="#000"/>
<rect x="364.0" y="122.0" width="6" height="2" fill="#000"/>
<text x="130.90" y="1219.80" font-family="Liberation Serif" font-size="18.67" font-weight="normal" font-style="normal" fill="#000" textLength="10.60" lengthAdjust="spacingAndGlyphs">0</text>
<text x="221.40" y="1219.80" font-family="Liberation Serif" font-size="18.67" font-weight="normal" font-style="normal" fill="#000" textLength="10.60" lengthAdjust="spacingAndGlyphs">2</text>
<text x="312.00" y="1219.80" font-family="Liberation Serif" font-size="18.67" font-weight="normal" font-style="normal" fill="#000" textLength="10.60" lengthAdjust="spacingAndGlyphs">4</text>
<text x="111.50" y="1204.70" font-family="Liberation Serif" font-size="18.67" font-weight="normal" font-style="normal" fill="#000" textLength="10.60" lengthAdjust="spacingAndGlyphs">0</text>
<text x="111.50" y="989.70" font-family="Liberation Serif" font-size="18.67" font-weight="normal" font-style="normal" fill="#000" textLength="10.60" lengthAdjust="spacingAndGlyphs">1</text>
<text x="111.50" y="774.70" font-family="Liberation Serif" font-size="18.67" font-weight="normal" font-style="normal" fill="#000" textLength="10.60" lengthAdjust="spacingAndGlyphs">2</text>
<text x="111.50" y="559.70" font-family="Liberation Serif" font-size="18.67" font-weight="normal" font-style="normal" fill="#000" textLength="10.60" lengthAdjust="spacingAndGlyphs">3</text>
<text x="111.50" y="344.70" font-family="Liberation Serif" font-size="18.67" font-weight="normal" font-style="normal" fill="#000" textLength="10.60" lengthAdjust="spacingAndGlyphs">4</text>
<text x="111.50" y="129.70" font-family="Liberation Serif" font-size="18.67" font-weight="normal" font-style="normal" fill="#000" textLength="10.60" lengthAdjust="spacingAndGlyphs">5</text>
<rect x="445.5" y="123.5" width="231.0" height="1075.0" fill="none" stroke="#000" stroke-width="1.1"/>
<rect x="445.0" y="1198.5" width="2" height="6" fill="#000"/>
<rect x="445.0" y="117.5" width="2" height="6" fill="#000"/>
<rect x="502.0" y="1198.5" width="2" height="6" fill="#000"/>
<rect x="502.0" y="117.5" width="2" height="6" fill="#000"/>
<rect x="560.0" y="1198.5" width="2" height="6" fill="#000"/>
<rect x="560.0" y="117.5" width="2" height="6" fill="#000"/>
<rect x="618.0" y="1198.5" width="2" height="6" fill="#000"/>
<rect x="618.0" y="117.5" width="2" height="6" fill="#000"/>
<rect x="675.0" y="1198.5" width="2" height="6" fill="#000"/>
<rect x="675.0" y="117.5" width="2" height="6" fill="#000"/>
<rect x="439.0" y="1197.0" width="6" height="2" fill="#000"/>
<rect x="677.0" y="1197.0" width="6" height="2" fill="#000"/>
<rect x="439.0" y="982.0" width="6" height="2" fill="#000"/>
<rect x="677.0" y="982.0" width="6" height="2" fill="#000"/>
<rect x="439.0" y="767.0" width="6" height="2" fill="#000"/>
<rect x="677.0" y="767.0" width="6" height="2" fill="#000"/>
<rect x="439.0" y="552.0" width="6" height="2" fill="#000"/>
<rect x="677.0" y="552.0" width="6" height="2" fill="#000"/>
<rect x="439.0" y="337.0" width="6" height="2" fill="#000"/>
<rect x="677.0" y="337.0" width="6" height="2" fill="#000"/>
<rect x="439.0" y="122.0" width="6" height="2" fill="#000"/>
<rect x="677.0" y="122.0" width="6" height="2" fill="#000"/>
<text x="439.40" y="1219.80" font-family="Liberation Serif" font-size="18.67" font-weight="normal" font-style="normal" fill="#000" textLength="10.60" lengthAdjust="spacingAndGlyphs">0</text>
<text x="491.80" y="1219.80" font-family="Liberation Serif" font-size="18.67" font-weight="normal" font-style="normal" fill="#000" textLength="21.20" lengthAdjust="spacingAndGlyphs">50</text>
<text x="544.29" y="1219.80" font-family="Liberation Serif" font-size="18.67" font-weight="normal" font-style="normal" fill="#000" textLength="31.82" lengthAdjust="spacingAndGlyphs">100</text>
<text x="602.09" y="1219.80" font-family="Liberation Serif" font-size="18.67" font-weight="normal" font-style="normal" fill="#000" textLength="31.82" lengthAdjust="spacingAndGlyphs">150</text>
<text x="659.79" y="1219.80" font-family="Liberation Serif" font-size="18.67" font-weight="normal" font-style="normal" fill="#000" textLength="31.82" lengthAdjust="spacingAndGlyphs">200</text>
<text x="424.50" y="1204.70" font-family="Liberation Serif" font-size="18.67" font-weight="normal" font-style="normal" fill="#000" textLength="10.60" lengthAdjust="spacingAndGlyphs">0</text>
<text x="424.50" y="989.70" font-family="Liberation Serif" font-size="18.67" font-weight="normal" font-style="normal" fill="#000" textLength="10.60" lengthAdjust="spacingAndGlyphs">1</text>
<text x="424.50" y="774.70" font-family="Liberation Serif" font-size="18.67" font-weight="normal" font-style="normal" fill="#000" textLength="10.60" lengthAdjust="spacingAndGlyphs">2</text>
<text x="424.50" y="559.70" font-family="Liberation Serif" font-size="18.67" font-weight="normal" font-style="normal" fill="#000" textLength="10.60" lengthAdjust="spacingAndGlyphs">3</text>
<text x="424.50" y="344.70" font-family="Liberation Serif" font-size="18.67" font-weight="normal" font-style="normal" fill="#000" textLength="10.60" lengthAdjust="spacingAndGlyphs">4</text>
<text x="424.50" y="129.70" font-family="Liberation Serif" font-size="18.67" font-weight="normal" font-style="normal" fill="#000" textLength="10.60" lengthAdjust="spacingAndGlyphs">5</text>
<rect x="759.5" y="123.5" width="231.0" height="1075.0" fill="none" stroke="#000" stroke-width="1.1"/>
<rect x="758.0" y="1198.5" width="2" height="6" fill="#000"/>
<rect x="758.0" y="117.5" width="2" height="6" fill="#000"/>
<rect x="854.0" y="1198.5" width="2" height="6" fill="#000"/>
<rect x="854.0" y="117.5" width="2" height="6" fill="#000"/>
<rect x="950.0" y="1198.5" width="2" height="6" fill="#000"/>
<rect x="950.0" y="117.5" width="2" height="6" fill="#000"/>
<rect x="753.0" y="1197.0" width="6" height="2" fill="#000"/>
<rect x="991.0" y="1197.0" width="6" height="2" fill="#000"/>
<rect x="753.0" y="982.0" width="6" height="2" fill="#000"/>
<rect x="991.0" y="982.0" width="6" height="2" fill="#000"/>
<rect x="753.0" y="767.0" width="6" height="2" fill="#000"/>
<rect x="991.0" y="767.0" width="6" height="2" fill="#000"/>
<rect x="753.0" y="552.0" width="6" height="2" fill="#000"/>
<rect x="991.0" y="552.0" width="6" height="2" fill="#000"/>
<rect x="753.0" y="337.0" width="6" height="2" fill="#000"/>
<rect x="991.0" y="337.0" width="6" height="2" fill="#000"/>
<rect x="753.0" y="122.0" width="6" height="2" fill="#000"/>
<rect x="991.0" y="122.0" width="6" height="2" fill="#000"/>
<text x="753.10" y="1219.80" font-family="Liberation Serif" font-size="18.67" font-weight="normal" font-style="normal" fill="#000" textLength="10.60" lengthAdjust="spacingAndGlyphs">0</text>
<text x="843.90" y="1219.80" font-family="Liberation Serif" font-size="18.67" font-weight="normal" font-style="normal" fill="#000" textLength="21.20" lengthAdjust="spacingAndGlyphs">50</text>
<text x="934.69" y="1219.80" font-family="Liberation Serif" font-size="18.67" font-weight="normal" font-style="normal" fill="#000" textLength="31.82" lengthAdjust="spacingAndGlyphs">100</text>
<text x="738.50" y="1204.70" font-family="Liberation Serif" font-size="18.67" font-weight="normal" font-style="normal" fill="#000" textLength="10.60" lengthAdjust="spacingAndGlyphs">0</text>
<text x="738.50" y="989.70" font-family="Liberation Serif" font-size="18.67" font-weight="normal" font-style="normal" fill="#000" textLength="10.60" lengthAdjust="spacingAndGlyphs">1</text>
<text x="738.50" y="774.70" font-family="Liberation Serif" font-size="18.67" font-weight="normal" font-style="normal" fill="#000" textLength="10.60" lengthAdjust="spacingAndGlyphs">2</text>
<text x="738.50" y="559.70" font-family="Liberation Serif" font-size="18.67" font-weight="normal" font-style="normal" fill="#000" textLength="10.60" lengthAdjust="spacingAndGlyphs">3</text>
<text x="738.50" y="344.70" font-family="Liberation Serif" font-size="18.67" font-weight="normal" font-style="normal" fill="#000" textLength="10.60" lengthAdjust="spacingAndGlyphs">4</text>
<text x="738.50" y="129.70" font-family="Liberation Serif" font-size="18.67" font-weight="normal" font-style="normal" fill="#000" textLength="10.60" lengthAdjust="spacingAndGlyphs">5</text>
<rect x="1072.5" y="123.5" width="231.0" height="1075.0" fill="none" stroke="#000" stroke-width="1.1"/>
<rect x="1071.0" y="1198.5" width="2" height="6" fill="#000"/>
<rect x="1071.0" y="117.5" width="2" height="6" fill="#000"/>
<rect x="1129.0" y="1198.5" width="2" height="6" fill="#000"/>
<rect x="1129.0" y="117.5" width="2" height="6" fill="#000"/>
<rect x="1187.0" y="1198.5" width="2" height="6" fill="#000"/>
<rect x="1187.0" y="117.5" width="2" height="6" fill="#000"/>
<rect x="1245.0" y="1198.5" width="2" height="6" fill="#000"/>
<rect x="1245.0" y="117.5" width="2" height="6" fill="#000"/>
<rect x="1302.0" y="1198.5" width="2" height="6" fill="#000"/>
<rect x="1302.0" y="117.5" width="2" height="6" fill="#000"/>
<rect x="1066.0" y="1197.0" width="6" height="2" fill="#000"/>
<rect x="1304.0" y="1197.0" width="6" height="2" fill="#000"/>
<rect x="1066.0" y="982.0" width="6" height="2" fill="#000"/>
<rect x="1304.0" y="982.0" width="6" height="2" fill="#000"/>
<rect x="1066.0" y="767.0" width="6" height="2" fill="#000"/>
<rect x="1304.0" y="767.0" width="6" height="2" fill="#000"/>
<rect x="1066.0" y="552.0" width="6" height="2" fill="#000"/>
<rect x="1304.0" y="552.0" width="6" height="2" fill="#000"/>
<rect x="1066.0" y="337.0" width="6" height="2" fill="#000"/>
<rect x="1304.0" y="337.0" width="6" height="2" fill="#000"/>
<rect x="1066.0" y="122.0" width="6" height="2" fill="#000"/>
<rect x="1304.0" y="122.0" width="6" height="2" fill="#000"/>
<text x="1059.41" y="1219.80" font-family="Liberation Serif" font-size="18.67" font-weight="normal" font-style="normal" fill="#000" textLength="24.57" lengthAdjust="spacingAndGlyphs">−1</text>
<text x="1123.90" y="1219.80" font-family="Liberation Serif" font-size="18.67" font-weight="normal" font-style="normal" fill="#000" textLength="10.60" lengthAdjust="spacingAndGlyphs">0</text>
<text x="1181.60" y="1219.80" font-family="Liberation Serif" font-size="18.67" font-weight="normal" font-style="normal" fill="#000" textLength="10.60" lengthAdjust="spacingAndGlyphs">1</text>
<text x="1239.40" y="1219.80" font-family="Liberation Serif" font-size="18.67" font-weight="normal" font-style="normal" fill="#000" textLength="10.60" lengthAdjust="spacingAndGlyphs">2</text>
<text x="1297.20" y="1219.80" font-family="Liberation Serif" font-size="18.67" font-weight="normal" font-style="normal" fill="#000" textLength="10.60" lengthAdjust="spacingAndGlyphs">3</text>
<text x="1051.50" y="1204.70" font-family="Liberation Serif" font-size="18.67" font-weight="normal" font-style="normal" fill="#000" textLength="10.60" lengthAdjust="spacingAndGlyphs">0</text>
<text x="1051.50" y="989.70" font-family="Liberation Serif" font-size="18.67" font-weight="normal" font-style="normal" fill="#000" textLength="10.60" lengthAdjust="spacingAndGlyphs">1</text>
<text x="1051.50" y="774.70" font-family="Liberation Serif" font-size="18.67" font-weight="normal" font-style="normal" fill="#000" textLength="10.60" lengthAdjust="spacingAndGlyphs">2</text>
<text x="1051.50" y="559.70" font-family="Liberation Serif" font-size="18.67" font-weight="normal" font-style="normal" fill="#000" textLength="10.60" lengthAdjust="spacingAndGlyphs">3</text>
<text x="1051.50" y="344.70" font-family="Liberation Serif" font-size="18.67" font-weight="normal" font-style="normal" fill="#000" textLength="10.60" lengthAdjust="spacingAndGlyphs">4</text>
<text x="1051.50" y="129.70" font-family="Liberation Serif" font-size="18.67" font-weight="normal" font-style="normal" fill="#000" textLength="10.60" lengthAdjust="spacingAndGlyphs">5</text>
<rect x="1385.5" y="123.5" width="231.0" height="1075.0" fill="none" stroke="#000" stroke-width="1.1"/>
<rect x="1384.0" y="1198.5" width="2" height="6" fill="#000"/>
<rect x="1384.0" y="117.5" width="2" height="6" fill="#000"/>
<rect x="1461.0" y="1198.5" width="2" height="6" fill="#000"/>
<rect x="1461.0" y="117.5" width="2" height="6" fill="#000"/>
<rect x="1538.0" y="1198.5" width="2" height="6" fill="#000"/>
<rect x="1538.0" y="117.5" width="2" height="6" fill="#000"/>
<rect x="1615.0" y="1198.5" width="2" height="6" fill="#000"/>
<rect x="1615.0" y="117.5" width="2" height="6" fill="#000"/>
<rect x="1379.0" y="1197.0" width="6" height="2" fill="#000"/>
<rect x="1617.0" y="1197.0" width="6" height="2" fill="#000"/>
<rect x="1379.0" y="982.0" width="6" height="2" fill="#000"/>
<rect x="1617.0" y="982.0" width="6" height="2" fill="#000"/>
<rect x="1379.0" y="767.0" width="6" height="2" fill="#000"/>
<rect x="1617.0" y="767.0" width="6" height="2" fill="#000"/>
<rect x="1379.0" y="552.0" width="6" height="2" fill="#000"/>
<rect x="1617.0" y="552.0" width="6" height="2" fill="#000"/>
<rect x="1379.0" y="337.0" width="6" height="2" fill="#000"/>
<rect x="1617.0" y="337.0" width="6" height="2" fill="#000"/>
<rect x="1379.0" y="122.0" width="6" height="2" fill="#000"/>
<rect x="1617.0" y="122.0" width="6" height="2" fill="#000"/>
<text x="1371.15" y="1219.80" font-family="Liberation Serif" font-size="18.67" font-weight="normal" font-style="normal" fill="#000" textLength="26.51" lengthAdjust="spacingAndGlyphs">0.0</text>
<text x="1448.15" y="1219.80" font-family="Liberation Serif" font-size="18.67" font-weight="normal" font-style="normal" fill="#000" textLength="26.51" lengthAdjust="spacingAndGlyphs">0.1</text>
<text x="1525.15" y="1219.80" font-family="Liberation Serif" font-size="18.67" font-weight="normal" font-style="normal" fill="#000" textLength="26.51" lengthAdjust="spacingAndGlyphs">0.2</text>
<text x="1602.15" y="1219.80" font-family="Liberation Serif" font-size="18.67" font-weight="normal" font-style="normal" fill="#000" textLength="26.51" lengthAdjust="spacingAndGlyphs">0.3</text>
<text x="1364.50" y="1204.70" font-family="Liberation Serif" font-size="18.67" font-weight="normal" font-style="normal" fill="#000" textLength="10.60" lengthAdjust="spacingAndGlyphs">0</text>
<text x="1364.50" y="989.70" font-family="Liberation Serif" font-size="18.67" font-weight="normal" font-style="normal" fill="#000" textLength="10.60" lengthAdjust="spacingAndGlyphs">1</text>
<text x="1364.50" y="774.70" font-family="Liberation Serif" font-size="18.67" font-weight="normal" font-style="normal" fill="#000" textLength="10.60" lengthAdjust="spacingAndGlyphs">2</text>
<text x="1364.50" y="559.70" font-family="Liberation Serif" font-size="18.67" font-weight="normal" font-style="normal" fill="#000" textLength="10.60" lengthAdjust="spacingAndGlyphs">3</text>
<text x="1364.50" y="344.70" font-family="Liberation Serif" font-size="18.67" font-weight="normal" font-style="normal" fill="#000" textLength="10.60" lengthAdjust="spacingAndGlyphs">4</text>
<text x="1364.50" y="129.70" font-family="Liberation Serif" font-size="18.67" font-weight="normal" font-style="normal" fill="#000" textLength="10.60" lengthAdjust="spacingAndGlyphs">5</text>
<rect x="1698.5" y="123.5" width="231.0" height="1075.0" fill="none" stroke="#000" stroke-width="1.1"/>
<rect x="1698.0" y="1198.5" width="2" height="6" fill="#000"/>
<rect x="1698.0" y="117.5" width="2" height="6" fill="#000"/>
<rect x="1755.0" y="1198.5" width="2" height="6" fill="#000"/>
<rect x="1755.0" y="117.5" width="2" height="6" fill="#000"/>
<rect x="1813.0" y="1198.5" width="2" height="6" fill="#000"/>
<rect x="1813.0" y="117.5" width="2" height="6" fill="#000"/>
<rect x="1871.0" y="1198.5" width="2" height="6" fill="#000"/>
<rect x="1871.0" y="117.5" width="2" height="6" fill="#000"/>
<rect x="1928.0" y="1198.5" width="2" height="6" fill="#000"/>
<rect x="1928.0" y="117.5" width="2" height="6" fill="#000"/>
<rect x="1692.0" y="1197.0" width="6" height="2" fill="#000"/>
<rect x="1930.0" y="1197.0" width="6" height="2" fill="#000"/>
<rect x="1692.0" y="982.0" width="6" height="2" fill="#000"/>
<rect x="1930.0" y="982.0" width="6" height="2" fill="#000"/>
<rect x="1692.0" y="767.0" width="6" height="2" fill="#000"/>
<rect x="1930.0" y="767.0" width="6" height="2" fill="#000"/>
<rect x="1692.0" y="552.0" width="6" height="2" fill="#000"/>
<rect x="1930.0" y="552.0" width="6" height="2" fill="#000"/>
<rect x="1692.0" y="337.0" width="6" height="2" fill="#000"/>
<rect x="1930.0" y="337.0" width="6" height="2" fill="#000"/>
<rect x="1692.0" y="122.0" width="6" height="2" fill="#000"/>
<rect x="1930.0" y="122.0" width="6" height="2" fill="#000"/>
<text x="1684.55" y="1219.80" font-family="Liberation Serif" font-size="18.67" font-weight="normal" font-style="normal" fill="#000" textLength="26.51" lengthAdjust="spacingAndGlyphs">0.0</text>
<text x="1742.25" y="1219.80" font-family="Liberation Serif" font-size="18.67" font-weight="normal" font-style="normal" fill="#000" textLength="26.51" lengthAdjust="spacingAndGlyphs">2.5</text>
<text x="1799.95" y="1219.80" font-family="Liberation Serif" font-size="18.67" font-weight="normal" font-style="normal" fill="#000" textLength="26.51" lengthAdjust="spacingAndGlyphs">5.0</text>
<text x="1857.65" y="1219.80" font-family="Liberation Serif" font-size="18.67" font-weight="normal" font-style="normal" fill="#000" textLength="26.51" lengthAdjust="spacingAndGlyphs">7.5</text>
<text x="1910.04" y="1219.80" font-family="Liberation Serif" font-size="18.67" font-weight="normal" font-style="normal" fill="#000" textLength="37.12" lengthAdjust="spacingAndGlyphs">10.0</text>
<text x="1677.50" y="1204.70" font-family="Liberation Serif" font-size="18.67" font-weight="normal" font-style="normal" fill="#000" textLength="10.60" lengthAdjust="spacingAndGlyphs">0</text>
<text x="1677.50" y="989.70" font-family="Liberation Serif" font-size="18.67" font-weight="normal" font-style="normal" fill="#000" textLength="10.60" lengthAdjust="spacingAndGlyphs">1</text>
<text x="1677.50" y="774.70" font-family="Liberation Serif" font-size="18.67" font-weight="normal" font-style="normal" fill="#000" textLength="10.60" lengthAdjust="spacingAndGlyphs">2</text>
<text x="1677.50" y="559.70" font-family="Liberation Serif" font-size="18.67" font-weight="normal" font-style="normal" fill="#000" textLength="10.60" lengthAdjust="spacingAndGlyphs">3</text>
<text x="1677.50" y="344.70" font-family="Liberation Serif" font-size="18.67" font-weight="normal" font-style="normal" fill="#000" textLength="10.60" lengthAdjust="spacingAndGlyphs">4</text>
<text x="1677.50" y="129.70" font-family="Liberation Serif" font-size="18.67" font-weight="normal" font-style="normal" fill="#000" textLength="10.60" lengthAdjust="spacingAndGlyphs">5</text>
<text x="112.03" y="1247.60" font-family="Liberation Serif" font-size="22.74" font-weight="normal" font-style="normal" fill="#000" textLength="196.44" lengthAdjust="spacingAndGlyphs">Backsc. coeff. [Msr</text>
<text x="308.45" y="1240.60" font-family="Liberation Sans" font-size="15.06" font-weight="normal" font-style="normal" fill="#000" textLength="20.95" lengthAdjust="spacingAndGlyphs">−1</text>
<text x="335.85" y="1247.60" font-family="Liberation Serif" font-size="22.74" font-weight="normal" font-style="normal" fill="#000" textLength="19.24" lengthAdjust="spacingAndGlyphs">m</text>
<text x="355.10" y="1240.60" font-family="Liberation Sans" font-size="15.06" font-weight="normal" font-style="normal" fill="#000" textLength="20.95" lengthAdjust="spacingAndGlyphs">−1</text>
<text x="376.05" y="1247.60" font-family="Liberation Serif" font-size="22.74" font-weight="normal" font-style="normal" fill="#000" textLength="7.92" lengthAdjust="spacingAndGlyphs">]</text>
<text x="449.57" y="1247.60" font-family="Liberation Serif" font-size="22.74" font-weight="normal" font-style="normal" fill="#000" textLength="196.58" lengthAdjust="spacingAndGlyphs">Extinct. coeff. [Mm</text>
<text x="646.16" y="1240.60" font-family="Liberation Sans" font-size="15.06" font-weight="normal" font-style="normal" fill="#000" textLength="20.95" lengthAdjust="spacingAndGlyphs">−1</text>
<text x="667.11" y="1247.60" font-family="Liberation Serif" font-size="22.74" font-weight="normal" font-style="normal" fill="#000" textLength="7.92" lengthAdjust="spacingAndGlyphs">]</text>
<text x="796.60" y="1244.00" font-family="Liberation Serif" font-size="22.74" font-weight="normal" font-style="normal" fill="#000" textLength="155.81" lengthAdjust="spacingAndGlyphs">Lidar ratio [Sr]</text>
<text x="1112.01" y="1248.80" font-family="Liberation Sans" font-size="21.52" font-weight="normal" font-style="italic" fill="#000" textLength="13.94" lengthAdjust="spacingAndGlyphs">Å</text>
<text x="1125.95" y="1248.80" font-family="Liberation Serif" font-size="22.74" font-weight="normal" font-style="normal" fill="#000" textLength="137.97" lengthAdjust="spacingAndGlyphs">ngström Exp.</text>
<text x="1440.01" y="1244.00" font-family="Liberation Serif" font-size="22.74" font-weight="normal" font-style="normal" fill="#000" textLength="121.59" lengthAdjust="spacingAndGlyphs">Depol. ratio</text>
<text x="1729.31" y="1247.60" font-family="Liberation Serif" font-size="22.74" font-weight="normal" font-style="normal" fill="#000" textLength="85.97" lengthAdjust="spacingAndGlyphs">WVMR [</text>
<text x="1815.28" y="1247.60" font-family="Liberation Sans" font-size="21.52" font-weight="normal" font-style="italic" fill="#000" textLength="12.89" lengthAdjust="spacingAndGlyphs">g</text>
<text x="1831.60" y="1251.46" font-family="Liberation Sans" font-size="21.52" font-weight="normal" font-style="normal" fill="#000" textLength="10.15" lengthAdjust="spacingAndGlyphs">*</text>
<text x="1845.18" y="1247.60" font-family="Liberation Sans" font-size="21.52" font-weight="normal" font-style="italic" fill="#000" textLength="24.65" lengthAdjust="spacingAndGlyphs">kg</text>
<text x="1869.82" y="1240.60" font-family="Liberation Sans" font-size="15.06" font-weight="normal" font-style="normal" fill="#000" textLength="20.95" lengthAdjust="spacingAndGlyphs">−1</text>
<text x="1890.77" y="1247.60" font-family="Liberation Serif" font-size="22.74" font-weight="normal" font-style="normal" fill="#000" textLength="7.92" lengthAdjust="spacingAndGlyphs">]</text>
<text x="1693.30" y="110.00" font-family="Liberation Serif" font-size="18.67" font-weight="normal" font-style="normal" fill="#000" textLength="10.60" lengthAdjust="spacingAndGlyphs">0</text>
<text x="1745.70" y="110.00" font-family="Liberation Serif" font-size="18.67" font-weight="normal" font-style="normal" fill="#000" textLength="21.20" lengthAdjust="spacingAndGlyphs">25</text>
<text x="1803.40" y="110.00" font-family="Liberation Serif" font-size="18.67" font-weight="normal" font-style="normal" fill="#000" textLength="21.20" lengthAdjust="spacingAndGlyphs">50</text>
<text x="1861.10" y="110.00" font-family="Liberation Serif" font-size="18.67" font-weight="normal" font-style="normal" fill="#000" textLength="21.20" lengthAdjust="spacingAndGlyphs">75</text>
<text x="1913.49" y="110.00" font-family="Liberation Serif" font-size="18.67" font-weight="normal" font-style="normal" fill="#000" textLength="31.82" lengthAdjust="spacingAndGlyphs">100</text>
<text x="1724.77" y="92.90" font-family="Liberation Serif" font-size="22.74" font-weight="normal" font-style="normal" fill="#000" textLength="177.47" lengthAdjust="spacingAndGlyphs">Rel.Humidity [%]</text>
<rect x="579.6" y="230.5" width="93.3" height="63.2" fill="#f1f2f6"/>
<text x="585.50" y="246.50" font-family="Liberation Serif" font-size="13.78" font-weight="normal" font-style="normal" fill="#000" textLength="17.72" lengthAdjust="spacingAndGlyphs">LR</text>
<text x="602.93" y="249.21" font-family="Liberation Sans" font-size="9.13" font-weight="normal" font-style="normal" fill="#000" textLength="16.44" lengthAdjust="spacingAndGlyphs">355</text>
<text x="619.36" y="246.50" font-family="Liberation Serif" font-size="13.78" font-weight="normal" font-style="normal" fill="#000" textLength="43.27" lengthAdjust="spacingAndGlyphs">: 50.00</text>
<text x="585.50" y="264.50" font-family="Liberation Serif" font-size="13.78" font-weight="normal" font-style="normal" fill="#000" textLength="17.72" lengthAdjust="spacingAndGlyphs">LR</text>
<text x="602.93" y="267.21" font-family="Liberation Sans" font-size="9.13" font-weight="normal" font-style="normal" fill="#000" textLength="16.44" lengthAdjust="spacingAndGlyphs">532</text>
<text x="619.36" y="264.50" font-family="Liberation Serif" font-size="13.78" font-weight="normal" font-style="normal" fill="#000" textLength="43.27" lengthAdjust="spacingAndGlyphs">: 50.00</text>
<text x="585.50" y="283.50" font-family="Liberation Serif" font-size="13.78" font-weight="normal" font-style="normal" fill="#000" textLength="17.72" lengthAdjust="spacingAndGlyphs">LR</text>
<text x="602.93" y="286.21" font-family="Liberation Sans" font-size="9.13" font-weight="normal" font-style="normal" fill="#000" textLength="21.91" lengthAdjust="spacingAndGlyphs">1064</text>
<text x="624.84" y="283.50" font-family="Liberation Serif" font-size="13.78" font-weight="normal" font-style="normal" fill="#000" textLength="43.27" lengthAdjust="spacingAndGlyphs">: 50.00</text>
<rect x="141.4" y="131.4" width="213.8" height="227.9" rx="3" ry="3" fill="#ffffff" fill-opacity="0.8" stroke="#cccccc" stroke-opacity="0.8" stroke-width="1.1"/>
<line x1="146.9" y1="144.7" x2="178.1" y2="144.7" stroke="#0000ff" stroke-width="1.9" stroke-linecap="square"/>
<text x="192.40" y="150.20" font-family="Liberation Serif" font-size="17.11" font-weight="normal" font-style="normal" fill="#000" textLength="147.40" lengthAdjust="spacingAndGlyphs">aerBsc_raman_355</text>
<line x1="146.9" y1="169.6" x2="178.1" y2="169.6" stroke="#008000" stroke-width="1.9" stroke-linecap="square"/>
<text x="192.40" y="175.10" font-family="Liberation Serif" font-size="17.11" font-weight="normal" font-style="normal" fill="#000" textLength="147.40" lengthAdjust="spacingAndGlyphs">aerBsc_raman_532</text>
<line x1="146.9" y1="194.5" x2="178.1" y2="194.5" stroke="#ff0000" stroke-width="1.9" stroke-linecap="square"/>
<text x="192.40" y="200.00" font-family="Liberation Serif" font-size="17.11" font-weight="normal" font-style="normal" fill="#000" textLength="157.11" lengthAdjust="spacingAndGlyphs">aerBsc_raman_1064</text>
<line x1="146.9" y1="219.4" x2="178.1" y2="219.4" stroke="#800080" stroke-width="1.9" stroke-dasharray="6.2 2.5"/>
<text x="192.40" y="224.90" font-family="Liberation Serif" font-size="17.11" font-weight="normal" font-style="normal" fill="#000" textLength="120.54" lengthAdjust="spacingAndGlyphs">aerBsc_RR_355</text>
<line x1="146.9" y1="244.3" x2="178.1" y2="244.3" stroke="#808000" stroke-width="1.9" stroke-dasharray="6.2 2.5"/>
<text x="192.40" y="249.80" font-family="Liberation Serif" font-size="17.11" font-weight="normal" font-style="normal" fill="#000" textLength="120.54" lengthAdjust="spacingAndGlyphs">aerBsc_RR_532</text>
<line x1="146.9" y1="269.2" x2="178.1" y2="269.2" stroke="#ffa07a" stroke-width="1.9" stroke-dasharray="6.2 2.5"/>
<text x="192.40" y="274.70" font-family="Liberation Serif" font-size="17.11" font-weight="normal" font-style="normal" fill="#000" textLength="130.26" lengthAdjust="spacingAndGlyphs">aerBsc_RR_1064</text>
<line x1="146.9" y1="294.1" x2="178.1" y2="294.1" stroke="#00ffff" stroke-width="1.9" stroke-linecap="square"/>
<text x="192.40" y="299.60" font-family="Liberation Serif" font-size="17.11" font-weight="normal" font-style="normal" fill="#000" textLength="133.00" lengthAdjust="spacingAndGlyphs">aerBsc_klett_355</text>
<line x1="146.9" y1="319.0" x2="178.1" y2="319.0" stroke="#00ff00" stroke-width="1.9" stroke-linecap="square"/>
<text x="192.40" y="324.50" font-family="Liberation Serif" font-size="17.11" font-weight="normal" font-style="normal" fill="#000" textLength="133.00" lengthAdjust="spacingAndGlyphs">aerBsc_klett_532</text>
<line x1="146.9" y1="343.9" x2="178.1" y2="343.9" stroke="#fa8072" stroke-width="1.9" stroke-linecap="square"/>
<text x="192.40" y="349.40" font-family="Liberation Serif" font-size="17.11" font-weight="normal" font-style="normal" fill="#000" textLength="142.72" lengthAdjust="spacingAndGlyphs">aerBsc_klett_1064</text>
<rect x="428.6" y="131.8" width="240.8" height="227.9" rx="3" ry="3" fill="#ffffff" fill-opacity="0.8" stroke="#cccccc" stroke-opacity="0.8" stroke-width="1.1"/>
<line x1="434.1" y1="145.1" x2="465.3" y2="145.1" stroke="#0000ff" stroke-width="1.9" stroke-linecap="square"/>
<text x="479.60" y="150.60" font-family="Liberation Serif" font-size="17.11" font-weight="normal" font-style="normal" fill="#000" textLength="145.66" lengthAdjust="spacingAndGlyphs">aerExt_raman_355</text>
<line x1="434.1" y1="170.0" x2="465.3" y2="170.0" stroke="#008000" stroke-width="1.9" stroke-linecap="square"/>
<text x="479.60" y="175.50" font-family="Liberation Serif" font-size="17.11" font-weight="normal" font-style="normal" fill="#000" textLength="145.66" lengthAdjust="spacingAndGlyphs">aerExt_raman_532</text>
<line x1="434.1" y1="194.9" x2="465.3" y2="194.9" stroke="#ff0000" stroke-width="1.9" stroke-linecap="square"/>
<text x="479.60" y="200.40" font-family="Liberation Serif" font-size="17.11" font-weight="normal" font-style="normal" fill="#000" textLength="155.38" lengthAdjust="spacingAndGlyphs">aerExt_raman_1064</text>
<line x1="434.1" y1="219.8" x2="465.3" y2="219.8" stroke="#800080" stroke-width="1.9" stroke-dasharray="6.2 2.5"/>
<text x="479.60" y="225.30" font-family="Liberation Serif" font-size="17.11" font-weight="normal" font-style="normal" fill="#000" textLength="118.82" lengthAdjust="spacingAndGlyphs">aerExt_RR_355</text>
<line x1="434.1" y1="244.7" x2="465.3" y2="244.7" stroke="#808000" stroke-width="1.9" stroke-dasharray="6.2 2.5"/>
<text x="479.60" y="250.20" font-family="Liberation Serif" font-size="17.11" font-weight="normal" font-style="normal" fill="#000" textLength="118.82" lengthAdjust="spacingAndGlyphs">aerExt_RR_532</text>
<line x1="434.1" y1="269.6" x2="465.3" y2="269.6" stroke="#ffa07a" stroke-width="1.9" stroke-dasharray="6.2 2.5"/>
<text x="479.60" y="275.10" font-family="Liberation Serif" font-size="17.11" font-weight="normal" font-style="normal" fill="#000" textLength="128.56" lengthAdjust="spacingAndGlyphs">aerExt_RR_1064</text>
<line x1="434.1" y1="294.5" x2="465.3" y2="294.5" stroke="#00ffff" stroke-width="1.9" stroke-linecap="square"/>
<text x="479.60" y="300.00" font-family="Liberation Serif" font-size="17.11" font-weight="normal" font-style="normal" fill="#000" textLength="173.35" lengthAdjust="spacingAndGlyphs">aerBsc_klett_355 x LR</text>
<line x1="434.1" y1="319.4" x2="465.3" y2="319.4" stroke="#00ff00" stroke-width="1.9" stroke-linecap="square"/>
<text x="479.60" y="324.90" font-family="Liberation Serif" font-size="17.11" font-weight="normal" font-style="normal" fill="#000" textLength="173.35" lengthAdjust="spacingAndGlyphs">aerBsc_klett_532 x LR</text>
<line x1="434.1" y1="344.3" x2="465.3" y2="344.3" stroke="#fa8072" stroke-width="1.9" stroke-linecap="square"/>
<text x="479.60" y="349.80" font-family="Liberation Serif" font-size="17.11" font-weight="normal" font-style="normal" fill="#000" textLength="183.07" lengthAdjust="spacingAndGlyphs">aerBsc_klett_1064 x LR</text>
<rect x="773.5" y="131.7" width="208.9" height="153.2" rx="3" ry="3" fill="#ffffff" fill-opacity="0.8" stroke="#cccccc" stroke-opacity="0.8" stroke-width="1.1"/>
<line x1="779.0" y1="145.0" x2="810.2" y2="145.0" stroke="#0000ff" stroke-width="1.9" stroke-linecap="square"/>
<text x="824.50" y="150.50" font-family="Liberation Serif" font-size="17.11" font-weight="normal" font-style="normal" fill="#000" textLength="141.40" lengthAdjust="spacingAndGlyphs">aerLR_raman_355</text>
<line x1="779.0" y1="169.9" x2="810.2" y2="169.9" stroke="#008000" stroke-width="1.9" stroke-linecap="square"/>
<text x="824.50" y="175.40" font-family="Liberation Serif" font-size="17.11" font-weight="normal" font-style="normal" fill="#000" textLength="141.40" lengthAdjust="spacingAndGlyphs">aerLR_raman_532</text>
<line x1="779.0" y1="194.8" x2="810.2" y2="194.8" stroke="#ff0000" stroke-width="1.9" stroke-linecap="square"/>
<text x="824.50" y="200.30" font-family="Liberation Serif" font-size="17.11" font-weight="normal" font-style="normal" fill="#000" textLength="151.14" lengthAdjust="spacingAndGlyphs">aerLR_raman_1064</text>
<line x1="779.0" y1="219.7" x2="810.2" y2="219.7" stroke="#800080" stroke-width="1.9" stroke-dasharray="6.2 2.5"/>
<text x="824.50" y="225.20" font-family="Liberation Serif" font-size="17.11" font-weight="normal" font-style="normal" fill="#000" textLength="114.56" lengthAdjust="spacingAndGlyphs">aerLR_RR_355</text>
<line x1="779.0" y1="244.6" x2="810.2" y2="244.6" stroke="#808000" stroke-width="1.9" stroke-dasharray="6.2 2.5"/>
<text x="824.50" y="250.10" font-family="Liberation Serif" font-size="17.11" font-weight="normal" font-style="normal" fill="#000" textLength="114.56" lengthAdjust="spacingAndGlyphs">aerLR_RR_532</text>
<line x1="779.0" y1="269.5" x2="810.2" y2="269.5" stroke="#ffa07a" stroke-width="1.9" stroke-dasharray="6.2 2.5"/>
<text x="824.50" y="275.00" font-family="Liberation Serif" font-size="17.11" font-weight="normal" font-style="normal" fill="#000" textLength="124.28" lengthAdjust="spacingAndGlyphs">aerLR_RR_1064</text>
<rect x="1019.8" y="131.8" width="275.2" height="78.5" rx="3" ry="3" fill="#ffffff" fill-opacity="0.8" stroke="#cccccc" stroke-opacity="0.8" stroke-width="1.1"/>
<line x1="1025.2" y1="145.1" x2="1056.5" y2="145.1" stroke="#ffa500" stroke-width="1.9" stroke-linecap="square"/>
<text x="1070.75" y="150.55" font-family="Liberation Serif" font-size="17.11" font-weight="normal" font-style="normal" fill="#000" textLength="199.65" lengthAdjust="spacingAndGlyphs">AE_beta_355_532_Raman</text>
<line x1="1025.2" y1="170.0" x2="1056.5" y2="170.0" stroke="#ff00ff" stroke-width="1.9" stroke-linecap="square"/>
<text x="1070.75" y="175.45" font-family="Liberation Serif" font-size="17.11" font-weight="normal" font-style="normal" fill="#000" textLength="209.37" lengthAdjust="spacingAndGlyphs">AE_beta_532_1064_Raman</text>
<line x1="1025.2" y1="194.9" x2="1056.5" y2="194.9" stroke="#000000" stroke-width="1.9" stroke-linecap="square"/>
<text x="1070.75" y="200.35" font-family="Liberation Serif" font-size="17.11" font-weight="normal" font-style="normal" fill="#000" textLength="217.68" lengthAdjust="spacingAndGlyphs">AE_parExt_355_532_Raman</text>
<rect x="1376.4" y="131.4" width="232.1" height="153.2" rx="3" ry="3" fill="#ffffff" fill-opacity="0.8" stroke="#cccccc" stroke-opacity="0.8" stroke-width="1.1"/>
<line x1="1381.9" y1="144.7" x2="1413.1" y2="144.7" stroke="#0000ff" stroke-width="1.9" stroke-linecap="square"/>
<text x="1427.40" y="150.20" font-family="Liberation Serif" font-size="17.11" font-weight="normal" font-style="normal" fill="#000" textLength="165.65" lengthAdjust="spacingAndGlyphs">parDepol_raman_355</text>
<line x1="1381.9" y1="169.6" x2="1413.1" y2="169.6" stroke="#008000" stroke-width="1.9" stroke-linecap="square"/>
<text x="1427.40" y="175.10" font-family="Liberation Serif" font-size="17.11" font-weight="normal" font-style="normal" fill="#000" textLength="165.65" lengthAdjust="spacingAndGlyphs">parDepol_raman_532</text>
<line x1="1381.9" y1="194.5" x2="1413.1" y2="194.5" stroke="#ff0000" stroke-width="1.9" stroke-linecap="square"/>
<text x="1427.40" y="200.00" font-family="Liberation Serif" font-size="17.11" font-weight="normal" font-style="normal" fill="#000" textLength="175.39" lengthAdjust="spacingAndGlyphs">parDepol_raman_1064</text>
<line x1="1381.9" y1="219.4" x2="1413.1" y2="219.4" stroke="#00ffff" stroke-width="1.9" stroke-linecap="square"/>
<text x="1427.40" y="224.90" font-family="Liberation Serif" font-size="17.11" font-weight="normal" font-style="normal" fill="#000" textLength="151.27" lengthAdjust="spacingAndGlyphs">parDepol_klett_355</text>
<line x1="1381.9" y1="244.3" x2="1413.1" y2="244.3" stroke="#00ff00" stroke-width="1.9" stroke-linecap="square"/>
<text x="1427.40" y="249.80" font-family="Liberation Serif" font-size="17.11" font-weight="normal" font-style="normal" fill="#000" textLength="151.27" lengthAdjust="spacingAndGlyphs">parDepol_klett_532</text>
<line x1="1381.9" y1="269.2" x2="1413.1" y2="269.2" stroke="#fa8072" stroke-width="1.9" stroke-linecap="square"/>
<text x="1427.40" y="274.70" font-family="Liberation Serif" font-size="17.11" font-weight="normal" font-style="normal" fill="#000" textLength="160.99" lengthAdjust="spacingAndGlyphs">parDepol_klett_1064</text>
<rect x="1811.2" y="131.6" width="110.0" height="29.9" rx="3" ry="3" fill="#ffffff" fill-opacity="0.8" stroke="#cccccc" stroke-opacity="0.8" stroke-width="1.1"/>
<line x1="1816.7" y1="144.9" x2="1847.9" y2="144.9" stroke="#0000ff" stroke-width="1.9" stroke-linecap="square"/>
<text x="1862.20" y="150.40" font-family="Liberation Serif" font-size="17.11" font-weight="normal" font-style="normal" fill="#000" textLength="54.26" lengthAdjust="spacingAndGlyphs">WVMR</text>
<rect x="1817.7" y="185.2" width="80.8" height="29.0" rx="3" ry="3" fill="#ffffff" fill-opacity="0.8" stroke="#cccccc" stroke-opacity="0.8" stroke-width="1.1"/>
<line x1="1823.2" y1="198.5" x2="1854.4" y2="198.5" stroke="#008000" stroke-width="1.9" stroke-linecap="square"/>
<text x="1868.70" y="204.00" font-family="Liberation Serif" font-size="17.11" font-weight="normal" font-style="normal" fill="#000" textLength="24.83" lengthAdjust="spacingAndGlyphs">RH</text>
<rect x="1484" y="329" width="96.5" height="74" fill="#eff0f5" fill-opacity="0.8"/>
<text x="1490.50" y="348.50" font-family="Liberation Serif" font-size="17.11" font-weight="normal" font-style="italic" fill="#000" textLength="9.69" lengthAdjust="spacingAndGlyphs">η</text>
<text x="1500.18" y="351.86" font-family="Liberation Sans" font-size="11.34" font-weight="normal" font-style="normal" fill="#000" textLength="20.42" lengthAdjust="spacingAndGlyphs">355</text>
<text x="1520.60" y="348.50" font-family="Liberation Serif" font-size="17.11" font-weight="normal" font-style="normal" fill="#000" textLength="53.75" lengthAdjust="spacingAndGlyphs">: 16.06</text>
<text x="1490.50" y="371.40" font-family="Liberation Serif" font-size="17.11" font-weight="normal" font-style="italic" fill="#000" textLength="9.69" lengthAdjust="spacingAndGlyphs">η</text>
<text x="1500.18" y="374.76" font-family="Liberation Sans" font-size="11.34" font-weight="normal" font-style="normal" fill="#000" textLength="20.42" lengthAdjust="spacingAndGlyphs">532</text>
<text x="1520.60" y="371.40" font-family="Liberation Serif" font-size="17.11" font-weight="normal" font-style="normal" fill="#000" textLength="53.75" lengthAdjust="spacingAndGlyphs">: 25.43</text>
<text x="1490.50" y="391.30" font-family="Liberation Serif" font-size="17.11" font-weight="normal" font-style="italic" fill="#000" textLength="9.69" lengthAdjust="spacingAndGlyphs">η</text>
<text x="1500.18" y="394.66" font-family="Liberation Sans" font-size="11.34" font-weight="normal" font-style="normal" fill="#000" textLength="27.22" lengthAdjust="spacingAndGlyphs">1064</text>
<text x="1527.41" y="391.30" font-family="Liberation Serif" font-size="17.11" font-weight="normal" font-style="normal" fill="#000" textLength="38.79" lengthAdjust="spacingAndGlyphs">: nan</text>
<rect x="195" y="1275.8" width="211.2" height="66" fill="#f1f2f6"/>
<text x="200.40" y="1294.40" font-family="Liberation Serif" font-size="17.11" font-weight="normal" font-style="normal" fill="#000" textLength="188.26" lengthAdjust="spacingAndGlyphs">ref.H_355: 3.79-5.28 km</text>
<text x="200.40" y="1313.60" font-family="Liberation Serif" font-size="17.11" font-weight="normal" font-style="normal" fill="#000" textLength="188.26" lengthAdjust="spacingAndGlyphs">ref.H_532: 5.09-6.59 km</text>
<text x="200.40" y="1333.60" font-family="Liberation Serif" font-size="17.11" font-weight="normal" font-style="normal" fill="#000" textLength="197.98" lengthAdjust="spacingAndGlyphs">ref.H_1064: 3.79-5.28 km</text>
<rect x="1695.2" y="1273.6" width="174.8" height="28.2" fill="#f1f2f6"/>
<text x="1700.50" y="1291.50" font-family="Liberation Serif" font-size="17.11" font-weight="normal" font-style="normal" fill="#000" textLength="163.04" lengthAdjust="spacingAndGlyphs">WV-calib.const.: 16.4</text>
<text x="1000.00" y="1327.80" font-family="Liberation Serif" font-size="15.23" font-weight="bold" font-style="normal" fill="#ff2020" textLength="90.03" lengthAdjust="spacingAndGlyphs">Preliminary</text>
<text x="1000.00" y="1342.80" font-family="Liberation Serif" font-size="15.23" font-weight="bold" font-style="normal" fill="#ff2020" textLength="61.34" lengthAdjust="spacingAndGlyphs">Results.</text>
<text x="1501.00" y="1332.00" font-family="Liberation Serif" font-size="12.43" font-weight="bold" font-style="normal" fill="#000" textLength="106.77" lengthAdjust="spacingAndGlyphs">© TROPOS 2026.</text>
<text x="1500.40" y="1344.00" font-family="Liberation Serif" font-size="12.43" font-weight="bold" font-style="normal" fill="#000" textLength="137.27" lengthAdjust="spacingAndGlyphs">CC BY SA 4.0 License.</text>
<g>
<rect x="662.7" y="1297.5" width="154.7" height="54" rx="2" ry="2" fill="#abb1aa" stroke="#000" stroke-width="1"/>
<path d="M662.7 1336.4 H817.4 V1351.5 H662.7 Z" fill="#333"/>
<circle cx="689.2" cy="1322.6" r="25" fill="#abb1aa"/>
<circle cx="689.2" cy="1322.6" r="18.4" fill="#fff" stroke="#333" stroke-width="3.6"/>
<text x="689.0" y="1329.3" font-family="Liberation Sans" font-weight="bold" font-size="23" fill="#333" text-anchor="middle" textLength="23" lengthAdjust="spacingAndGlyphs">cc</text>
<circle cx="744.2" cy="1316.8" r="13.4" fill="#fff" stroke="#333" stroke-width="3.2"/>
<circle cx="744.2" cy="1308.9" r="2.1" fill="#333"/>
<path d="M740.0 1312.0 H748.6 V1318.8 H746.6 V1326.0 H742.2 V1318.8 H740.0 Z" fill="#333"/>
<circle cx="781.1" cy="1316.8" r="13.4" fill="#fff" stroke="#333" stroke-width="3.2"/>
<path d="M774.6 1313.8 A7.0 7.0 0 1 1 775.0 1320.8" fill="none" stroke="#333" stroke-width="3.0"/>
<path d="M770.8 1312.2 L778.4 1312.2 L774.6 1317.6 Z" fill="#333"/>
<text x="743.4" y="1349" font-family="Liberation Sans" font-weight="bold" font-size="11.5" fill="#fff" text-anchor="middle">BY</text>
<text x="779.9" y="1349" font-family="Liberation Sans" font-weight="bold" font-size="11.5" fill="#fff" text-anchor="middle">SA</text>
</g>
</svg></body></html>
